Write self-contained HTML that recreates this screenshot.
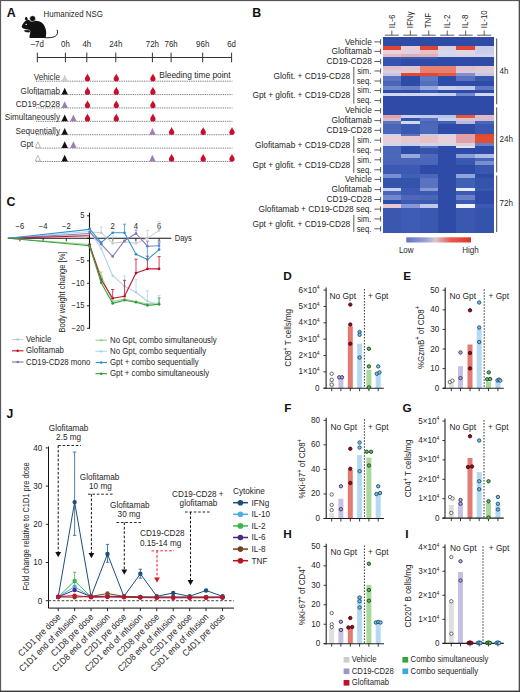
<!DOCTYPE html><html><head><meta charset="utf-8"><style>html,body{margin:0;padding:0;background:#fff;overflow:hidden;width:520px;height:692px;}svg{display:block;}text{font-family:"Liberation Sans", sans-serif;}</style></head><body>
<svg width="520" height="692" viewBox="0 0 520 692">
<rect x="0" y="0" width="520" height="692" fill="#fff"/>
<text x="6.8" y="16.5" font-size="12.4" text-anchor="start" fill="#111" font-weight="bold">A</text>
<path d="M21.6 26.9 C22.4 24.2 24.2 21.2 26.8 20.3 C28.4 19.8 29.6 20.4 30.6 21.4 C35 20.1 40.2 20.6 43.2 24 C45.6 27 46.6 31 46.1 35 C45.9 36.6 45.6 37.5 45 38.1 L29.6 38.1 C29.3 36.8 29.6 35 30.2 33.6 C30.4 32.4 30 31.2 29.2 30.4 C27.4 29.6 24.6 28.8 22.8 28.3 Z" fill="#111"/>
<path d="M24.2 30.2 C25.5 29.6 28 29.5 29.6 30.3 C30.6 31 30.4 32.4 29.4 32.6 C27.6 32.9 25.4 32.2 24.4 31.6 C23.8 31.2 23.7 30.5 24.2 30.2 Z" fill="#111" stroke="#fff" stroke-width="0.45"/>
<ellipse cx="26.3" cy="18.9" rx="1.35" ry="1.85" transform="rotate(-20 26.3 18.9)" fill="#111"/>
<circle cx="32.6" cy="18.6" r="2.9" fill="#111" stroke="#fff" stroke-width="0.45"/>
<ellipse cx="26.2" cy="24.3" rx="0.85" ry="0.6" fill="#fff"/>
<path d="M44.8 37.7 C49 37.9 53 37.6 55.5 36.2 C57.6 34.8 57.8 32.4 57.2 29.8" fill="none" stroke="#111" stroke-width="0.95"/>
<text x="0" y="0" font-size="8.78" text-anchor="start" fill="#262626" transform="translate(43.6 17.3) scale(0.9 1)">Humanized NSG</text>
<line x1="37.3" y1="57.5" x2="231.6" y2="57.5" stroke="#333" stroke-width="1.0"/>
<line x1="37.3" y1="52.6" x2="37.3" y2="62.3" stroke="#333" stroke-width="1.0"/>
<text x="0" y="0" font-size="8.78" text-anchor="middle" fill="#262626" transform="translate(37.3 46.9) scale(0.9 1)">–7d</text>
<line x1="65.4" y1="52.6" x2="65.4" y2="62.3" stroke="#333" stroke-width="1.0"/>
<text x="0" y="0" font-size="8.78" text-anchor="middle" fill="#262626" transform="translate(65.4 46.9) scale(0.9 1)">0h</text>
<line x1="86.8" y1="52.6" x2="86.8" y2="62.3" stroke="#333" stroke-width="1.0"/>
<text x="0" y="0" font-size="8.78" text-anchor="middle" fill="#262626" transform="translate(86.8 46.9) scale(0.9 1)">4h</text>
<line x1="115.8" y1="52.6" x2="115.8" y2="62.3" stroke="#333" stroke-width="1.0"/>
<text x="0" y="0" font-size="8.78" text-anchor="middle" fill="#262626" transform="translate(115.8 46.9) scale(0.9 1)">24h</text>
<line x1="152.4" y1="52.6" x2="152.4" y2="62.3" stroke="#333" stroke-width="1.0"/>
<text x="0" y="0" font-size="8.78" text-anchor="middle" fill="#262626" transform="translate(152.4 46.9) scale(0.9 1)">72h</text>
<line x1="171.1" y1="52.6" x2="171.1" y2="62.3" stroke="#333" stroke-width="1.0"/>
<text x="0" y="0" font-size="8.78" text-anchor="middle" fill="#262626" transform="translate(171.1 46.9) scale(0.9 1)">76h</text>
<line x1="202.7" y1="52.6" x2="202.7" y2="62.3" stroke="#333" stroke-width="1.0"/>
<text x="0" y="0" font-size="8.78" text-anchor="middle" fill="#262626" transform="translate(202.7 46.9) scale(0.9 1)">96h</text>
<line x1="231.6" y1="52.6" x2="231.6" y2="62.3" stroke="#333" stroke-width="1.0"/>
<text x="0" y="0" font-size="8.78" text-anchor="middle" fill="#262626" transform="translate(231.6 46.9) scale(0.9 1)">6d</text>
<line x1="36" y1="81.2" x2="232.5" y2="81.2" stroke="#555" stroke-width="0.9" stroke-dasharray="0.9 0.9"/>
<text x="0" y="0" font-size="9.06" text-anchor="end" fill="#2b2b2b" transform="translate(60.0 80.25) scale(0.9 1)">Vehicle</text>
<line x1="36" y1="94.58" x2="232.5" y2="94.58" stroke="#555" stroke-width="0.9" stroke-dasharray="0.9 0.9"/>
<text x="0" y="0" font-size="9.06" text-anchor="end" fill="#2b2b2b" transform="translate(60.0 93.63) scale(0.9 1)">Glofitamab</text>
<line x1="36" y1="107.96000000000001" x2="232.5" y2="107.96000000000001" stroke="#555" stroke-width="0.9" stroke-dasharray="0.9 0.9"/>
<text x="0" y="0" font-size="9.06" text-anchor="end" fill="#2b2b2b" transform="translate(60.0 107.01) scale(0.9 1)">CD19-CD28</text>
<line x1="36" y1="121.34" x2="232.5" y2="121.34" stroke="#555" stroke-width="0.9" stroke-dasharray="0.9 0.9"/>
<text x="0" y="0" font-size="9.06" text-anchor="end" fill="#2b2b2b" transform="translate(60.0 120.39) scale(0.9 1)">Simultaneously</text>
<line x1="36" y1="134.72" x2="232.5" y2="134.72" stroke="#555" stroke-width="0.9" stroke-dasharray="0.9 0.9"/>
<text x="0" y="0" font-size="9.06" text-anchor="end" fill="#2b2b2b" transform="translate(60.0 133.77) scale(0.9 1)">Sequentially</text>
<line x1="36" y1="148.10000000000002" x2="232.5" y2="148.10000000000002" stroke="#555" stroke-width="0.9" stroke-dasharray="0.9 0.9"/>
<text x="0" y="0" font-size="9.06" text-anchor="end" fill="#2b2b2b" transform="translate(33.3 147.15000000000003) scale(0.9 1)">Gpt</text>
<line x1="36" y1="161.48000000000002" x2="232.5" y2="161.48000000000002" stroke="#555" stroke-width="0.9" stroke-dasharray="0.9 0.9"/>
<text x="0" y="0" font-size="9.33" text-anchor="start" fill="#262626" transform="translate(159.3 77.7) scale(0.9 1)">Bleeding time point</text>
<path d="M61.5 81.2 L64.7 74.4 L67.9 81.2Z" fill="#cfcfcf"/>
<path d="M61.5 94.58 L64.7 87.78 L67.9 94.58Z" fill="#111"/>
<path d="M61.5 107.96000000000001 L64.7 101.16000000000001 L67.9 107.96000000000001Z" fill="#a07cb4"/>
<path d="M61.5 121.34 L64.7 114.54 L67.9 121.34Z" fill="#111"/>
<path d="M70.2 121.34 L73.4 114.54 L76.60000000000001 121.34Z" fill="#a07cb4"/>
<path d="M61.5 134.72 L64.7 127.92 L67.9 134.72Z" fill="#111"/>
<path d="M35.099999999999994 147.70000000000002 L37.8 141.9 L40.5 147.70000000000002Z" fill="#fff" stroke="#aaa" stroke-width="0.8"/>
<path d="M61.5 148.10000000000002 L64.7 141.3 L67.9 148.10000000000002Z" fill="#111"/>
<path d="M70.2 148.10000000000002 L73.4 141.3 L76.60000000000001 148.10000000000002Z" fill="#a07cb4"/>
<path d="M35.099999999999994 161.08 L37.8 155.28 L40.5 161.08Z" fill="#fff" stroke="#aaa" stroke-width="0.8"/>
<path d="M61.5 161.48000000000002 L64.7 154.68 L67.9 161.48000000000002Z" fill="#111"/>
<path d="M87.5 73.4 C88.1 75.4 90.15 77.0 90.15 78.75 A2.65 2.65 0 0 1 84.85 78.75 C84.85 77.0 86.9 75.4 87.5 73.4Z" fill="#c8102e"/>
<path d="M116.3 73.4 C116.89999999999999 75.4 118.95 77.0 118.95 78.75 A2.65 2.65 0 0 1 113.64999999999999 78.75 C113.64999999999999 77.0 115.7 75.4 116.3 73.4Z" fill="#c8102e"/>
<path d="M152.9 73.4 C153.5 75.4 155.55 77.0 155.55 78.75 A2.65 2.65 0 0 1 150.25 78.75 C150.25 77.0 152.3 75.4 152.9 73.4Z" fill="#c8102e"/>
<path d="M87.5 86.78 C88.1 88.78 90.15 90.38 90.15 92.13 A2.65 2.65 0 0 1 84.85 92.13 C84.85 90.38 86.9 88.78 87.5 86.78Z" fill="#c8102e"/>
<path d="M116.3 86.78 C116.89999999999999 88.78 118.95 90.38 118.95 92.13 A2.65 2.65 0 0 1 113.64999999999999 92.13 C113.64999999999999 90.38 115.7 88.78 116.3 86.78Z" fill="#c8102e"/>
<path d="M152.9 86.78 C153.5 88.78 155.55 90.38 155.55 92.13 A2.65 2.65 0 0 1 150.25 92.13 C150.25 90.38 152.3 88.78 152.9 86.78Z" fill="#c8102e"/>
<path d="M87.5 100.16000000000001 C88.1 102.16000000000001 90.15 103.76 90.15 105.51 A2.65 2.65 0 0 1 84.85 105.51 C84.85 103.76 86.9 102.16000000000001 87.5 100.16000000000001Z" fill="#c8102e"/>
<path d="M116.3 100.16000000000001 C116.89999999999999 102.16000000000001 118.95 103.76 118.95 105.51 A2.65 2.65 0 0 1 113.64999999999999 105.51 C113.64999999999999 103.76 115.7 102.16000000000001 116.3 100.16000000000001Z" fill="#c8102e"/>
<path d="M152.9 100.16000000000001 C153.5 102.16000000000001 155.55 103.76 155.55 105.51 A2.65 2.65 0 0 1 150.25 105.51 C150.25 103.76 152.3 102.16000000000001 152.9 100.16000000000001Z" fill="#c8102e"/>
<path d="M87.5 113.54 C88.1 115.54 90.15 117.14 90.15 118.89 A2.65 2.65 0 0 1 84.85 118.89 C84.85 117.14 86.9 115.54 87.5 113.54Z" fill="#c8102e"/>
<path d="M116.3 113.54 C116.89999999999999 115.54 118.95 117.14 118.95 118.89 A2.65 2.65 0 0 1 113.64999999999999 118.89 C113.64999999999999 117.14 115.7 115.54 116.3 113.54Z" fill="#c8102e"/>
<path d="M152.9 113.54 C153.5 115.54 155.55 117.14 155.55 118.89 A2.65 2.65 0 0 1 150.25 118.89 C150.25 117.14 152.3 115.54 152.9 113.54Z" fill="#c8102e"/>
<path d="M149.20000000000002 134.72 L152.4 127.92 L155.6 134.72Z" fill="#a07cb4"/>
<path d="M171.6 126.91999999999999 C172.2 128.92 174.25 130.51999999999998 174.25 132.26999999999998 A2.65 2.65 0 0 1 168.95 132.26999999999998 C168.95 130.51999999999998 171.0 128.92 171.6 126.91999999999999Z" fill="#c8102e"/>
<path d="M203.2 126.91999999999999 C203.79999999999998 128.92 205.85 130.51999999999998 205.85 132.26999999999998 A2.65 2.65 0 0 1 200.54999999999998 132.26999999999998 C200.54999999999998 130.51999999999998 202.6 128.92 203.2 126.91999999999999Z" fill="#c8102e"/>
<path d="M232.0 126.91999999999999 C232.6 128.92 234.65 130.51999999999998 234.65 132.26999999999998 A2.65 2.65 0 0 1 229.35 132.26999999999998 C229.35 130.51999999999998 231.4 128.92 232.0 126.91999999999999Z" fill="#c8102e"/>
<path d="M149.20000000000002 161.48000000000002 L152.4 154.68 L155.6 161.48000000000002Z" fill="#a07cb4"/>
<path d="M171.6 153.68 C172.2 155.68 174.25 157.28 174.25 159.03 A2.65 2.65 0 0 1 168.95 159.03 C168.95 157.28 171.0 155.68 171.6 153.68Z" fill="#c8102e"/>
<path d="M203.2 153.68 C203.79999999999998 155.68 205.85 157.28 205.85 159.03 A2.65 2.65 0 0 1 200.54999999999998 159.03 C200.54999999999998 157.28 202.6 155.68 203.2 153.68Z" fill="#c8102e"/>
<path d="M232.0 153.68 C232.6 155.68 234.65 157.28 234.65 159.03 A2.65 2.65 0 0 1 229.35 159.03 C229.35 157.28 231.4 155.68 232.0 153.68Z" fill="#c8102e"/>
<text x="252.2" y="16.5" font-size="12.4" text-anchor="start" fill="#111" font-weight="bold">B</text>
<g shape-rendering="crispEdges">
<rect x="382.60" y="37" width="18.77" height="9.70" fill="#2d4ba7"/>
<rect x="401.07" y="37" width="18.77" height="9.70" fill="#2d4ba7"/>
<rect x="419.53" y="37" width="18.77" height="9.70" fill="#2d4ba7"/>
<rect x="438.00" y="37" width="18.77" height="9.70" fill="#2d4ba7"/>
<rect x="456.47" y="37" width="18.77" height="9.70" fill="#2d4ba7"/>
<rect x="474.93" y="37" width="18.77" height="9.70" fill="#2d4ba7"/>
<rect x="382.60" y="46.4" width="18.77" height="3.80" fill="#e0452f"/>
<rect x="401.07" y="46.4" width="18.77" height="3.80" fill="#e8ccd6"/>
<rect x="419.53" y="46.4" width="18.77" height="3.80" fill="#e0452f"/>
<rect x="438.00" y="46.4" width="18.77" height="3.80" fill="#d8d0e0"/>
<rect x="456.47" y="46.4" width="18.77" height="3.80" fill="#e0452f"/>
<rect x="474.93" y="46.4" width="18.77" height="3.80" fill="#c8cce8"/>
<rect x="382.60" y="49.9" width="18.77" height="4.30" fill="#e8d0dc"/>
<rect x="401.07" y="49.9" width="18.77" height="4.30" fill="#e0d0e0"/>
<rect x="419.53" y="49.9" width="18.77" height="4.30" fill="#e8c0c8"/>
<rect x="438.00" y="49.9" width="18.77" height="4.30" fill="#d8d8ec"/>
<rect x="456.47" y="49.9" width="18.77" height="4.30" fill="#e0d8e8"/>
<rect x="474.93" y="49.9" width="18.77" height="4.30" fill="#c8d0ec"/>
<rect x="382.60" y="53.9" width="18.77" height="2.90" fill="#e8b8c0"/>
<rect x="401.07" y="53.9" width="18.77" height="2.90" fill="#e0b0b8"/>
<rect x="419.53" y="53.9" width="18.77" height="2.90" fill="#e0b0b8"/>
<rect x="438.00" y="53.9" width="18.77" height="2.90" fill="#d0d4ec"/>
<rect x="456.47" y="53.9" width="18.77" height="2.90" fill="#dcd4e4"/>
<rect x="474.93" y="53.9" width="18.77" height="2.90" fill="#d4d4ec"/>
<rect x="382.60" y="56.5" width="18.77" height="3.20" fill="#3a5ab8"/>
<rect x="401.07" y="56.5" width="18.77" height="3.20" fill="#3a58b4"/>
<rect x="419.53" y="56.5" width="18.77" height="3.20" fill="#3a58b4"/>
<rect x="438.00" y="56.5" width="18.77" height="3.20" fill="#2d4ba7"/>
<rect x="456.47" y="56.5" width="18.77" height="3.20" fill="#2d4ba7"/>
<rect x="474.93" y="56.5" width="18.77" height="3.20" fill="#2d4ba7"/>
<rect x="382.60" y="59.4" width="18.77" height="6.70" fill="#3452b0"/>
<rect x="401.07" y="59.4" width="18.77" height="6.70" fill="#2d4ba7"/>
<rect x="419.53" y="59.4" width="18.77" height="6.70" fill="#2d4ba7"/>
<rect x="438.00" y="59.4" width="18.77" height="6.70" fill="#2d4ba7"/>
<rect x="456.47" y="59.4" width="18.77" height="6.70" fill="#2d4ba7"/>
<rect x="474.93" y="59.4" width="18.77" height="6.70" fill="#2d4ba7"/>
<rect x="382.60" y="65.8" width="18.77" height="4.00" fill="#dcc0d0"/>
<rect x="401.07" y="65.8" width="18.77" height="4.00" fill="#e0c4d0"/>
<rect x="419.53" y="65.8" width="18.77" height="4.00" fill="#e88070"/>
<rect x="438.00" y="65.8" width="18.77" height="4.00" fill="#e88070"/>
<rect x="456.47" y="65.8" width="18.77" height="4.00" fill="#dcc4d4"/>
<rect x="474.93" y="65.8" width="18.77" height="4.00" fill="#e0c8d4"/>
<rect x="382.60" y="69.5" width="18.77" height="3.60" fill="#e4ccd8"/>
<rect x="401.07" y="69.5" width="18.77" height="3.60" fill="#e0c8d4"/>
<rect x="419.53" y="69.5" width="18.77" height="3.60" fill="#e8806e"/>
<rect x="438.00" y="69.5" width="18.77" height="3.60" fill="#e8806e"/>
<rect x="456.47" y="69.5" width="18.77" height="3.60" fill="#e0c8d4"/>
<rect x="474.93" y="69.5" width="18.77" height="3.60" fill="#e0ccd8"/>
<rect x="382.60" y="72.8" width="18.77" height="3.70" fill="#c0c8e8"/>
<rect x="401.07" y="72.8" width="18.77" height="3.70" fill="#e04a30"/>
<rect x="419.53" y="72.8" width="18.77" height="3.70" fill="#e04a30"/>
<rect x="438.00" y="72.8" width="18.77" height="3.70" fill="#e05a44"/>
<rect x="456.47" y="72.8" width="18.77" height="3.70" fill="#8090d0"/>
<rect x="474.93" y="72.8" width="18.77" height="3.70" fill="#c8c8e4"/>
<rect x="382.60" y="76.2" width="18.77" height="4.70" fill="#5a72c0"/>
<rect x="401.07" y="76.2" width="18.77" height="4.70" fill="#2d4ba7"/>
<rect x="419.53" y="76.2" width="18.77" height="4.70" fill="#6078c4"/>
<rect x="438.00" y="76.2" width="18.77" height="4.70" fill="#2d4ba7"/>
<rect x="456.47" y="76.2" width="18.77" height="4.70" fill="#5a72c0"/>
<rect x="474.93" y="76.2" width="18.77" height="4.70" fill="#3858b0"/>
<rect x="382.60" y="80.6" width="18.77" height="5.90" fill="#4a66b8"/>
<rect x="401.07" y="80.6" width="18.77" height="5.90" fill="#2d4ba7"/>
<rect x="419.53" y="80.6" width="18.77" height="5.90" fill="#5070bc"/>
<rect x="438.00" y="80.6" width="18.77" height="5.90" fill="#2d4ba7"/>
<rect x="456.47" y="80.6" width="18.77" height="5.90" fill="#2d4ba7"/>
<rect x="474.93" y="80.6" width="18.77" height="5.90" fill="#2d4ba7"/>
<rect x="382.60" y="86.2" width="18.77" height="3.70" fill="#7088cc"/>
<rect x="401.07" y="86.2" width="18.77" height="3.70" fill="#6a80c8"/>
<rect x="419.53" y="86.2" width="18.77" height="3.70" fill="#98a8dc"/>
<rect x="438.00" y="86.2" width="18.77" height="3.70" fill="#c8d0ee"/>
<rect x="456.47" y="86.2" width="18.77" height="3.70" fill="#c0c8ec"/>
<rect x="474.93" y="86.2" width="18.77" height="3.70" fill="#6078c4"/>
<rect x="382.60" y="89.6" width="18.77" height="3.60" fill="#2d4ba7"/>
<rect x="401.07" y="89.6" width="18.77" height="3.60" fill="#2d4ba7"/>
<rect x="419.53" y="89.6" width="18.77" height="3.60" fill="#3c5ab4"/>
<rect x="438.00" y="89.6" width="18.77" height="3.60" fill="#2d4ba7"/>
<rect x="456.47" y="89.6" width="18.77" height="3.60" fill="#2d4ba7"/>
<rect x="474.93" y="89.6" width="18.77" height="3.60" fill="#2d4ba7"/>
<rect x="382.60" y="92.9" width="18.77" height="3.70" fill="#d0d8f0"/>
<rect x="401.07" y="92.9" width="18.77" height="3.70" fill="#d0d8f0"/>
<rect x="419.53" y="92.9" width="18.77" height="3.70" fill="#d0d8f0"/>
<rect x="438.00" y="92.9" width="18.77" height="3.70" fill="#c8d0ee"/>
<rect x="456.47" y="92.9" width="18.77" height="3.70" fill="#7088cc"/>
<rect x="474.93" y="92.9" width="18.77" height="3.70" fill="#d0d8f0"/>
<rect x="382.60" y="96.3" width="18.77" height="18.50" fill="#2d4ba7"/>
<rect x="401.07" y="96.3" width="18.77" height="18.50" fill="#2d4ba7"/>
<rect x="419.53" y="96.3" width="18.77" height="18.50" fill="#2d4ba7"/>
<rect x="438.00" y="96.3" width="18.77" height="18.50" fill="#2d4ba7"/>
<rect x="456.47" y="96.3" width="18.77" height="18.50" fill="#2d4ba7"/>
<rect x="474.93" y="96.3" width="18.77" height="18.50" fill="#2d4ba7"/>
<rect x="382.60" y="114.5" width="18.77" height="4.00" fill="#e0a0a8"/>
<rect x="401.07" y="114.5" width="18.77" height="4.00" fill="#c8d0f0"/>
<rect x="419.53" y="114.5" width="18.77" height="4.00" fill="#c0c8ec"/>
<rect x="438.00" y="114.5" width="18.77" height="4.00" fill="#b8c4e8"/>
<rect x="456.47" y="114.5" width="18.77" height="4.00" fill="#e05a40"/>
<rect x="474.93" y="114.5" width="18.77" height="4.00" fill="#e0b8c8"/>
<rect x="382.60" y="118.2" width="18.77" height="3.50" fill="#d8b8cc"/>
<rect x="401.07" y="118.2" width="18.77" height="3.50" fill="#3454b0"/>
<rect x="419.53" y="118.2" width="18.77" height="3.50" fill="#5a72c0"/>
<rect x="438.00" y="118.2" width="18.77" height="3.50" fill="#c8d0ec"/>
<rect x="456.47" y="118.2" width="18.77" height="3.50" fill="#e0c0cc"/>
<rect x="474.93" y="118.2" width="18.77" height="3.50" fill="#d4bcd0"/>
<rect x="382.60" y="121.4" width="18.77" height="3.20" fill="#5a74c0"/>
<rect x="401.07" y="121.4" width="18.77" height="3.20" fill="#d0d8f0"/>
<rect x="419.53" y="121.4" width="18.77" height="3.20" fill="#4a64b8"/>
<rect x="438.00" y="121.4" width="18.77" height="3.20" fill="#4060b4"/>
<rect x="456.47" y="121.4" width="18.77" height="3.20" fill="#b0bce4"/>
<rect x="474.93" y="121.4" width="18.77" height="3.20" fill="#4a66b8"/>
<rect x="382.60" y="124.3" width="18.77" height="9.80" fill="#4a66b8"/>
<rect x="401.07" y="124.3" width="18.77" height="9.80" fill="#3a58b0"/>
<rect x="419.53" y="124.3" width="18.77" height="9.80" fill="#4c68b8"/>
<rect x="438.00" y="124.3" width="18.77" height="9.80" fill="#2d4ba7"/>
<rect x="456.47" y="124.3" width="18.77" height="9.80" fill="#2d4ba7"/>
<rect x="474.93" y="124.3" width="18.77" height="9.80" fill="#3a58b0"/>
<rect x="382.60" y="133.8" width="18.77" height="2.50" fill="#d0d4ec"/>
<rect x="401.07" y="133.8" width="18.77" height="2.50" fill="#5a72c0"/>
<rect x="419.53" y="133.8" width="18.77" height="2.50" fill="#c8cce8"/>
<rect x="438.00" y="133.8" width="18.77" height="2.50" fill="#d0d4ec"/>
<rect x="456.47" y="133.8" width="18.77" height="2.50" fill="#e0a0a0"/>
<rect x="474.93" y="133.8" width="18.77" height="2.50" fill="#e04830"/>
<rect x="382.60" y="136" width="18.77" height="7.00" fill="#e8d0d8"/>
<rect x="401.07" y="136" width="18.77" height="7.00" fill="#e8c8d0"/>
<rect x="419.53" y="136" width="18.77" height="7.00" fill="#e8c0c8"/>
<rect x="438.00" y="136" width="18.77" height="7.00" fill="#e8d0d8"/>
<rect x="456.47" y="136" width="18.77" height="7.00" fill="#e0a0a8"/>
<rect x="474.93" y="136" width="18.77" height="7.00" fill="#e05030"/>
<rect x="382.60" y="142.7" width="18.77" height="3.60" fill="#d0d4ec"/>
<rect x="401.07" y="142.7" width="18.77" height="3.60" fill="#c8d0ec"/>
<rect x="419.53" y="142.7" width="18.77" height="3.60" fill="#d0d4ec"/>
<rect x="438.00" y="142.7" width="18.77" height="3.60" fill="#d0d4ec"/>
<rect x="456.47" y="142.7" width="18.77" height="3.60" fill="#e0ccd8"/>
<rect x="474.93" y="142.7" width="18.77" height="3.60" fill="#6a80c8"/>
<rect x="382.60" y="146" width="18.77" height="2.60" fill="#4a64b8"/>
<rect x="401.07" y="146" width="18.77" height="2.60" fill="#2d4ba7"/>
<rect x="419.53" y="146" width="18.77" height="2.60" fill="#6078c4"/>
<rect x="438.00" y="146" width="18.77" height="2.60" fill="#2d4ba7"/>
<rect x="456.47" y="146" width="18.77" height="2.60" fill="#e0e4f4"/>
<rect x="474.93" y="146" width="18.77" height="2.60" fill="#2d4ba7"/>
<rect x="382.60" y="148.3" width="18.77" height="6.00" fill="#4a66b8"/>
<rect x="401.07" y="148.3" width="18.77" height="6.00" fill="#2d4ba7"/>
<rect x="419.53" y="148.3" width="18.77" height="6.00" fill="#3454ac"/>
<rect x="438.00" y="148.3" width="18.77" height="6.00" fill="#2d4ba7"/>
<rect x="456.47" y="148.3" width="18.77" height="6.00" fill="#2d4ba7"/>
<rect x="474.93" y="148.3" width="18.77" height="6.00" fill="#2d4ba7"/>
<rect x="382.60" y="154" width="18.77" height="4.10" fill="#4c68b8"/>
<rect x="401.07" y="154" width="18.77" height="4.10" fill="#98a8dc"/>
<rect x="419.53" y="154" width="18.77" height="4.10" fill="#5068bc"/>
<rect x="438.00" y="154" width="18.77" height="4.10" fill="#2d4ba7"/>
<rect x="456.47" y="154" width="18.77" height="4.10" fill="#8ca0d8"/>
<rect x="474.93" y="154" width="18.77" height="4.10" fill="#b0bce8"/>
<rect x="382.60" y="157.8" width="18.77" height="3.80" fill="#4a66b8"/>
<rect x="401.07" y="157.8" width="18.77" height="3.80" fill="#4a64b8"/>
<rect x="419.53" y="157.8" width="18.77" height="3.80" fill="#4a66b8"/>
<rect x="438.00" y="157.8" width="18.77" height="3.80" fill="#2d4ba7"/>
<rect x="456.47" y="157.8" width="18.77" height="3.80" fill="#3a58b0"/>
<rect x="474.93" y="157.8" width="18.77" height="3.80" fill="#4a66b8"/>
<rect x="382.60" y="161.3" width="18.77" height="3.70" fill="#4a66b8"/>
<rect x="401.07" y="161.3" width="18.77" height="3.70" fill="#4a66b8"/>
<rect x="419.53" y="161.3" width="18.77" height="3.70" fill="#4a66b8"/>
<rect x="438.00" y="161.3" width="18.77" height="3.70" fill="#2d4ba7"/>
<rect x="456.47" y="161.3" width="18.77" height="3.70" fill="#3a58b0"/>
<rect x="474.93" y="161.3" width="18.77" height="3.70" fill="#7890d0"/>
<rect x="382.60" y="164.7" width="18.77" height="9.20" fill="#3c5ab4"/>
<rect x="401.07" y="164.7" width="18.77" height="9.20" fill="#3c5ab4"/>
<rect x="419.53" y="164.7" width="18.77" height="9.20" fill="#2d4ba7"/>
<rect x="438.00" y="164.7" width="18.77" height="9.20" fill="#2d4ba7"/>
<rect x="456.47" y="164.7" width="18.77" height="9.20" fill="#2d4ba7"/>
<rect x="474.93" y="164.7" width="18.77" height="9.20" fill="#3a58b0"/>
<rect x="382.60" y="173.6" width="18.77" height="4.30" fill="#7890d0"/>
<rect x="401.07" y="173.6" width="18.77" height="4.30" fill="#4060b4"/>
<rect x="419.53" y="173.6" width="18.77" height="4.30" fill="#4a66b8"/>
<rect x="438.00" y="173.6" width="18.77" height="4.30" fill="#2d4ba7"/>
<rect x="456.47" y="173.6" width="18.77" height="4.30" fill="#90a4dc"/>
<rect x="474.93" y="173.6" width="18.77" height="4.30" fill="#2d4ba7"/>
<rect x="382.60" y="177.6" width="18.77" height="10.30" fill="#3454ac"/>
<rect x="401.07" y="177.6" width="18.77" height="10.30" fill="#3454ac"/>
<rect x="419.53" y="177.6" width="18.77" height="10.30" fill="#5a72c0"/>
<rect x="438.00" y="177.6" width="18.77" height="10.30" fill="#2d4ba7"/>
<rect x="456.47" y="177.6" width="18.77" height="10.30" fill="#4060b4"/>
<rect x="474.93" y="177.6" width="18.77" height="10.30" fill="#3454ac"/>
<rect x="382.60" y="187.6" width="18.77" height="4.00" fill="#c8d0f0"/>
<rect x="401.07" y="187.6" width="18.77" height="4.00" fill="#3c5ab4"/>
<rect x="419.53" y="187.6" width="18.77" height="4.00" fill="#8898d4"/>
<rect x="438.00" y="187.6" width="18.77" height="4.00" fill="#2d4ba7"/>
<rect x="456.47" y="187.6" width="18.77" height="4.00" fill="#e8ecf8"/>
<rect x="474.93" y="187.6" width="18.77" height="4.00" fill="#3a58b0"/>
<rect x="382.60" y="191" width="18.77" height="4.70" fill="#4a66b8"/>
<rect x="401.07" y="191" width="18.77" height="4.70" fill="#3c5ab4"/>
<rect x="419.53" y="191" width="18.77" height="4.70" fill="#3c5ab4"/>
<rect x="438.00" y="191" width="18.77" height="4.70" fill="#2d4ba7"/>
<rect x="456.47" y="191" width="18.77" height="4.70" fill="#3c5ab4"/>
<rect x="474.93" y="191" width="18.77" height="4.70" fill="#2d4ba7"/>
<rect x="382.60" y="195.4" width="18.77" height="4.80" fill="#7088cc"/>
<rect x="401.07" y="195.4" width="18.77" height="4.80" fill="#5068bc"/>
<rect x="419.53" y="195.4" width="18.77" height="4.80" fill="#4a66b8"/>
<rect x="438.00" y="195.4" width="18.77" height="4.80" fill="#2d4ba7"/>
<rect x="456.47" y="195.4" width="18.77" height="4.80" fill="#6880c8"/>
<rect x="474.93" y="195.4" width="18.77" height="4.80" fill="#2d4ba7"/>
<rect x="382.60" y="199.9" width="18.77" height="4.00" fill="#2d4ba7"/>
<rect x="401.07" y="199.9" width="18.77" height="4.00" fill="#3c5ab4"/>
<rect x="419.53" y="199.9" width="18.77" height="4.00" fill="#3c5ab4"/>
<rect x="438.00" y="199.9" width="18.77" height="4.00" fill="#2d4ba7"/>
<rect x="456.47" y="199.9" width="18.77" height="4.00" fill="#3c5ab4"/>
<rect x="474.93" y="199.9" width="18.77" height="4.00" fill="#2d4ba7"/>
<rect x="382.60" y="203.6" width="18.77" height="4.20" fill="#e8c8d4"/>
<rect x="401.07" y="203.6" width="18.77" height="4.20" fill="#8898d4"/>
<rect x="419.53" y="203.6" width="18.77" height="4.20" fill="#c0c8ec"/>
<rect x="438.00" y="203.6" width="18.77" height="4.20" fill="#2d4ba7"/>
<rect x="456.47" y="203.6" width="18.77" height="4.20" fill="#eef0fa"/>
<rect x="474.93" y="203.6" width="18.77" height="4.20" fill="#3c5ab4"/>
<rect x="382.60" y="207.5" width="18.77" height="25.30" fill="#3a58b0"/>
<rect x="401.07" y="207.5" width="18.77" height="25.30" fill="#3e5cb4"/>
<rect x="419.53" y="207.5" width="18.77" height="25.30" fill="#3a58b0"/>
<rect x="438.00" y="207.5" width="18.77" height="25.30" fill="#2d4ba7"/>
<rect x="456.47" y="207.5" width="18.77" height="25.30" fill="#3a58b0"/>
<rect x="474.93" y="207.5" width="18.77" height="25.30" fill="#3454ac"/>
</g>
<line x1="384.83333333333337" y1="35.2" x2="398.83333333333337" y2="35.2" stroke="#333" stroke-width="0.8"/>
<line x1="391.83333333333337" y1="30.5" x2="391.83333333333337" y2="35.2" stroke="#333" stroke-width="0.8"/>
<text x="0" y="0" font-size="8.78" text-anchor="start" fill="#262626" transform="translate(394.53333333333336 28.3) rotate(-90) scale(0.9 1)">IL-6</text>
<line x1="403.3" y1="35.2" x2="417.3" y2="35.2" stroke="#333" stroke-width="0.8"/>
<line x1="410.3" y1="30.5" x2="410.3" y2="35.2" stroke="#333" stroke-width="0.8"/>
<text x="0" y="0" font-size="8.78" text-anchor="start" fill="#262626" transform="translate(413.0 28.3) rotate(-90) scale(0.9 1)">IFNγ</text>
<line x1="421.76666666666665" y1="35.2" x2="435.76666666666665" y2="35.2" stroke="#333" stroke-width="0.8"/>
<line x1="428.76666666666665" y1="30.5" x2="428.76666666666665" y2="35.2" stroke="#333" stroke-width="0.8"/>
<text x="0" y="0" font-size="8.78" text-anchor="start" fill="#262626" transform="translate(431.46666666666664 28.3) rotate(-90) scale(0.9 1)">TNF</text>
<line x1="440.23333333333335" y1="35.2" x2="454.23333333333335" y2="35.2" stroke="#333" stroke-width="0.8"/>
<line x1="447.23333333333335" y1="30.5" x2="447.23333333333335" y2="35.2" stroke="#333" stroke-width="0.8"/>
<text x="0" y="0" font-size="8.78" text-anchor="start" fill="#262626" transform="translate(449.93333333333334 28.3) rotate(-90) scale(0.9 1)">IL-2</text>
<line x1="458.7" y1="35.2" x2="472.7" y2="35.2" stroke="#333" stroke-width="0.8"/>
<line x1="465.7" y1="30.5" x2="465.7" y2="35.2" stroke="#333" stroke-width="0.8"/>
<text x="0" y="0" font-size="8.78" text-anchor="start" fill="#262626" transform="translate(468.4 28.3) rotate(-90) scale(0.9 1)">IL-8</text>
<line x1="477.16666666666663" y1="35.2" x2="491.16666666666663" y2="35.2" stroke="#333" stroke-width="0.8"/>
<line x1="484.16666666666663" y1="30.5" x2="484.16666666666663" y2="35.2" stroke="#333" stroke-width="0.8"/>
<text x="0" y="0" font-size="8.78" text-anchor="start" fill="#262626" transform="translate(486.8666666666666 28.3) rotate(-90) scale(0.9 1)">IL-10</text>
<text x="0" y="0" font-size="9.28" text-anchor="end" fill="#262626" transform="translate(371.8 44.6) scale(0.9 1)">Vehicle</text>
<line x1="374.4" y1="41.9" x2="380.6" y2="41.9" stroke="#333" stroke-width="0.8"/>
<line x1="380.6" y1="39.199999999999996" x2="380.6" y2="44.6" stroke="#333" stroke-width="0.8"/>
<text x="0" y="0" font-size="9.28" text-anchor="end" fill="#262626" transform="translate(371.8 54.1) scale(0.9 1)">Glofitamab</text>
<line x1="374.4" y1="51.4" x2="380.6" y2="51.4" stroke="#333" stroke-width="0.8"/>
<line x1="380.6" y1="48.699999999999996" x2="380.6" y2="54.1" stroke="#333" stroke-width="0.8"/>
<text x="0" y="0" font-size="9.28" text-anchor="end" fill="#262626" transform="translate(371.8 64.2) scale(0.9 1)">CD19-CD28</text>
<line x1="374.4" y1="61.5" x2="380.6" y2="61.5" stroke="#333" stroke-width="0.8"/>
<line x1="380.6" y1="58.8" x2="380.6" y2="64.2" stroke="#333" stroke-width="0.8"/>
<text x="0" y="0" font-size="8.56" text-anchor="end" fill="#262626" transform="translate(371.3 73.7) scale(0.9 1)">sim.</text>
<line x1="374.4" y1="71.0" x2="380.6" y2="71.0" stroke="#333" stroke-width="0.8"/>
<line x1="380.6" y1="68.3" x2="380.6" y2="73.7" stroke="#333" stroke-width="0.8"/>
<text x="0" y="0" font-size="8.56" text-anchor="end" fill="#262626" transform="translate(371.3 83.7) scale(0.9 1)">seq.</text>
<line x1="374.4" y1="81.0" x2="380.6" y2="81.0" stroke="#333" stroke-width="0.8"/>
<line x1="380.6" y1="78.3" x2="380.6" y2="83.7" stroke="#333" stroke-width="0.8"/>
<text x="0" y="0" font-size="8.56" text-anchor="end" fill="#262626" transform="translate(371.3 93.3) scale(0.9 1)">sim.</text>
<line x1="374.4" y1="90.6" x2="380.6" y2="90.6" stroke="#333" stroke-width="0.8"/>
<line x1="380.6" y1="87.89999999999999" x2="380.6" y2="93.3" stroke="#333" stroke-width="0.8"/>
<text x="0" y="0" font-size="8.56" text-anchor="end" fill="#262626" transform="translate(371.3 103.3) scale(0.9 1)">seq.</text>
<line x1="374.4" y1="100.6" x2="380.6" y2="100.6" stroke="#333" stroke-width="0.8"/>
<line x1="380.6" y1="97.89999999999999" x2="380.6" y2="103.3" stroke="#333" stroke-width="0.8"/>
<text x="0" y="0" font-size="9.28" text-anchor="end" fill="#262626" transform="translate(371.8 113.3) scale(0.9 1)">Vehicle</text>
<line x1="374.4" y1="110.6" x2="380.6" y2="110.6" stroke="#333" stroke-width="0.8"/>
<line x1="380.6" y1="107.89999999999999" x2="380.6" y2="113.3" stroke="#333" stroke-width="0.8"/>
<text x="0" y="0" font-size="9.28" text-anchor="end" fill="#262626" transform="translate(371.8 123.3) scale(0.9 1)">Glofitamab</text>
<line x1="374.4" y1="120.6" x2="380.6" y2="120.6" stroke="#333" stroke-width="0.8"/>
<line x1="380.6" y1="117.89999999999999" x2="380.6" y2="123.3" stroke="#333" stroke-width="0.8"/>
<text x="0" y="0" font-size="9.28" text-anchor="end" fill="#262626" transform="translate(371.8 133.0) scale(0.9 1)">CD19-CD28</text>
<line x1="374.4" y1="130.3" x2="380.6" y2="130.3" stroke="#333" stroke-width="0.8"/>
<line x1="380.6" y1="127.60000000000001" x2="380.6" y2="133.0" stroke="#333" stroke-width="0.8"/>
<text x="0" y="0" font-size="8.56" text-anchor="end" fill="#262626" transform="translate(371.3 142.89999999999998) scale(0.9 1)">sim.</text>
<line x1="374.4" y1="140.2" x2="380.6" y2="140.2" stroke="#333" stroke-width="0.8"/>
<line x1="380.6" y1="137.5" x2="380.6" y2="142.89999999999998" stroke="#333" stroke-width="0.8"/>
<text x="0" y="0" font-size="8.56" text-anchor="end" fill="#262626" transform="translate(371.3 152.7) scale(0.9 1)">seq.</text>
<line x1="374.4" y1="150.0" x2="380.6" y2="150.0" stroke="#333" stroke-width="0.8"/>
<line x1="380.6" y1="147.3" x2="380.6" y2="152.7" stroke="#333" stroke-width="0.8"/>
<text x="0" y="0" font-size="8.56" text-anchor="end" fill="#262626" transform="translate(371.3 162.5) scale(0.9 1)">sim.</text>
<line x1="374.4" y1="159.8" x2="380.6" y2="159.8" stroke="#333" stroke-width="0.8"/>
<line x1="380.6" y1="157.10000000000002" x2="380.6" y2="162.5" stroke="#333" stroke-width="0.8"/>
<text x="0" y="0" font-size="8.56" text-anchor="end" fill="#262626" transform="translate(371.3 172.5) scale(0.9 1)">seq.</text>
<line x1="374.4" y1="169.8" x2="380.6" y2="169.8" stroke="#333" stroke-width="0.8"/>
<line x1="380.6" y1="167.10000000000002" x2="380.6" y2="172.5" stroke="#333" stroke-width="0.8"/>
<text x="0" y="0" font-size="9.28" text-anchor="end" fill="#262626" transform="translate(371.8 182.1) scale(0.9 1)">Vehicle</text>
<line x1="374.4" y1="179.4" x2="380.6" y2="179.4" stroke="#333" stroke-width="0.8"/>
<line x1="380.6" y1="176.70000000000002" x2="380.6" y2="182.1" stroke="#333" stroke-width="0.8"/>
<text x="0" y="0" font-size="9.28" text-anchor="end" fill="#262626" transform="translate(371.8 192.29999999999998) scale(0.9 1)">Glofitamab</text>
<line x1="374.4" y1="189.6" x2="380.6" y2="189.6" stroke="#333" stroke-width="0.8"/>
<line x1="380.6" y1="186.9" x2="380.6" y2="192.29999999999998" stroke="#333" stroke-width="0.8"/>
<text x="0" y="0" font-size="9.28" text-anchor="end" fill="#262626" transform="translate(371.8 202.2) scale(0.9 1)">CD19-CD28</text>
<line x1="374.4" y1="199.5" x2="380.6" y2="199.5" stroke="#333" stroke-width="0.8"/>
<line x1="380.6" y1="196.8" x2="380.6" y2="202.2" stroke="#333" stroke-width="0.8"/>
<text x="0" y="0" font-size="9.28" text-anchor="end" fill="#262626" transform="translate(371.8 211.79999999999998) scale(0.9 1)">Glofitamab + CD19-CD28 seq.</text>
<line x1="374.4" y1="209.1" x2="380.6" y2="209.1" stroke="#333" stroke-width="0.8"/>
<line x1="380.6" y1="206.4" x2="380.6" y2="211.79999999999998" stroke="#333" stroke-width="0.8"/>
<text x="0" y="0" font-size="8.56" text-anchor="end" fill="#262626" transform="translate(371.3 221.6) scale(0.9 1)">sim.</text>
<line x1="374.4" y1="218.9" x2="380.6" y2="218.9" stroke="#333" stroke-width="0.8"/>
<line x1="380.6" y1="216.20000000000002" x2="380.6" y2="221.6" stroke="#333" stroke-width="0.8"/>
<text x="0" y="0" font-size="8.56" text-anchor="end" fill="#262626" transform="translate(371.3 231.5) scale(0.9 1)">seq.</text>
<line x1="374.4" y1="228.8" x2="380.6" y2="228.8" stroke="#333" stroke-width="0.8"/>
<line x1="380.6" y1="226.10000000000002" x2="380.6" y2="231.5" stroke="#333" stroke-width="0.8"/>
<line x1="353.8" y1="67.0" x2="353.8" y2="84.0" stroke="#333" stroke-width="0.8"/>
<text x="0" y="0" font-size="9.28" text-anchor="end" fill="#262626" transform="translate(350.2 78.7) scale(0.9 1)">Glofit. + CD19-CD28</text>
<line x1="353.8" y1="86.6" x2="353.8" y2="103.6" stroke="#333" stroke-width="0.8"/>
<text x="0" y="0" font-size="9.28" text-anchor="end" fill="#262626" transform="translate(350.2 98.3) scale(0.9 1)">Gpt + glofit. + CD19-CD28</text>
<line x1="353.8" y1="136.2" x2="353.8" y2="153.0" stroke="#333" stroke-width="0.8"/>
<text x="0" y="0" font-size="9.28" text-anchor="end" fill="#262626" transform="translate(350.2 147.79999999999998) scale(0.9 1)">Glofitamab + CD19-CD28</text>
<line x1="353.8" y1="155.8" x2="353.8" y2="172.8" stroke="#333" stroke-width="0.8"/>
<text x="0" y="0" font-size="9.28" text-anchor="end" fill="#262626" transform="translate(350.2 167.5) scale(0.9 1)">Gpt + glofit. + CD19-CD28</text>
<line x1="353.8" y1="214.9" x2="353.8" y2="231.8" stroke="#333" stroke-width="0.8"/>
<text x="0" y="0" font-size="9.28" text-anchor="end" fill="#262626" transform="translate(350.2 226.55) scale(0.9 1)">Gpt + glofit. + CD19-CD28</text>
<line x1="496.7" y1="38.5" x2="496.7" y2="104.2" stroke="#333" stroke-width="0.9"/>
<text x="0" y="0" font-size="9.00" text-anchor="start" fill="#262626" transform="translate(499.6 73.94999999999999) scale(0.9 1)">4h</text>
<line x1="496.7" y1="107.3" x2="496.7" y2="172.4" stroke="#333" stroke-width="0.9"/>
<text x="0" y="0" font-size="9.00" text-anchor="start" fill="#262626" transform="translate(499.6 142.45) scale(0.9 1)">24h</text>
<line x1="496.7" y1="175.5" x2="496.7" y2="232" stroke="#333" stroke-width="0.9"/>
<text x="0" y="0" font-size="9.00" text-anchor="start" fill="#262626" transform="translate(499.6 206.35) scale(0.9 1)">72h</text>
<defs><linearGradient id="cb" x1="0" x2="1" y1="0" y2="0"><stop offset="0" stop-color="#6272c2"/><stop offset="0.3" stop-color="#98a2d8"/><stop offset="0.45" stop-color="#dcc4d2"/><stop offset="0.68" stop-color="#e85c52"/><stop offset="1" stop-color="#e0342a"/></linearGradient></defs>
<rect x="406.3" y="237.3" width="64.7" height="5.2" fill="url(#cb)"/>
<text x="0" y="0" font-size="8.89" text-anchor="middle" fill="#262626" transform="translate(406.2 252.6) scale(0.9 1)">Low</text>
<text x="0" y="0" font-size="8.89" text-anchor="middle" fill="#262626" transform="translate(470.5 252.6) scale(0.9 1)">High</text>
<text x="6.6" y="205.8" font-size="12.4" text-anchor="start" fill="#111" font-weight="bold">C</text>
<line x1="7.7" y1="238.3" x2="171.3" y2="238.3" stroke="#111" stroke-width="1.1"/>
<line x1="19.900000000000006" y1="238.3" x2="19.900000000000006" y2="241.3" stroke="#111" stroke-width="0.9"/>
<text x="0" y="0" font-size="8.44" text-anchor="middle" fill="#262626" transform="translate(19.900000000000006 229.4) scale(0.9 1)">−6</text>
<line x1="43.1" y1="238.3" x2="43.1" y2="241.3" stroke="#111" stroke-width="0.9"/>
<text x="0" y="0" font-size="8.44" text-anchor="middle" fill="#262626" transform="translate(43.1 229.4) scale(0.9 1)">−4</text>
<line x1="66.3" y1="238.3" x2="66.3" y2="241.3" stroke="#111" stroke-width="0.9"/>
<text x="0" y="0" font-size="8.44" text-anchor="middle" fill="#262626" transform="translate(66.3 229.4) scale(0.9 1)">−2</text>
<line x1="112.7" y1="238.3" x2="112.7" y2="241.3" stroke="#111" stroke-width="0.9"/>
<text x="0" y="0" font-size="8.44" text-anchor="middle" fill="#262626" transform="translate(112.7 229.4) scale(0.9 1)">2</text>
<line x1="135.9" y1="238.3" x2="135.9" y2="241.3" stroke="#111" stroke-width="0.9"/>
<text x="0" y="0" font-size="8.44" text-anchor="middle" fill="#262626" transform="translate(135.9 229.4) scale(0.9 1)">4</text>
<line x1="159.1" y1="238.3" x2="159.1" y2="241.3" stroke="#111" stroke-width="0.9"/>
<text x="0" y="0" font-size="8.44" text-anchor="middle" fill="#262626" transform="translate(159.1 229.4) scale(0.9 1)">6</text>
<text x="0" y="0" font-size="8.33" text-anchor="start" fill="#262626" transform="translate(174.8 240.6) scale(0.9 1)">Days</text>
<line x1="89.5" y1="212.7" x2="89.5" y2="328.8" stroke="#111" stroke-width="1.1"/>
<line x1="87" y1="215.8" x2="89.5" y2="215.8" stroke="#111" stroke-width="0.9"/>
<text x="0" y="0" font-size="8.44" text-anchor="end" fill="#262626" transform="translate(84.4 218.4) scale(0.9 1)">5</text>
<line x1="87" y1="238.3" x2="89.5" y2="238.3" stroke="#111" stroke-width="0.9"/>
<line x1="87" y1="260.8" x2="89.5" y2="260.8" stroke="#111" stroke-width="0.9"/>
<text x="0" y="0" font-size="8.44" text-anchor="end" fill="#262626" transform="translate(84.4 263.40000000000003) scale(0.9 1)">−5</text>
<line x1="87" y1="283.3" x2="89.5" y2="283.3" stroke="#111" stroke-width="0.9"/>
<text x="0" y="0" font-size="8.44" text-anchor="end" fill="#262626" transform="translate(84.4 285.90000000000003) scale(0.9 1)">−10</text>
<line x1="87" y1="305.8" x2="89.5" y2="305.8" stroke="#111" stroke-width="0.9"/>
<text x="0" y="0" font-size="8.44" text-anchor="end" fill="#262626" transform="translate(84.4 308.40000000000003) scale(0.9 1)">−15</text>
<line x1="87" y1="328.3" x2="89.5" y2="328.3" stroke="#111" stroke-width="0.9"/>
<text x="0" y="0" font-size="8.44" text-anchor="end" fill="#262626" transform="translate(84.4 330.90000000000003) scale(0.9 1)">−20</text>
<text x="0" y="0" font-size="8.39" text-anchor="middle" fill="#262626" transform="translate(65.3 292) rotate(-90) scale(0.9 1)">Body weight change [%]</text>
<polyline points="8.30,238.30 89.60,244.50" fill="none" stroke="#9ccf86" stroke-width="1.1" stroke-linejoin="round"/>
<polyline points="8.30,238.30 89.60,235.00" fill="none" stroke="#d2cacd" stroke-width="1.1" stroke-linejoin="round"/>
<polyline points="8.30,238.30 89.60,231.50" fill="none" stroke="#b0d4ea" stroke-width="1.1" stroke-linejoin="round"/>
<polyline points="8.30,238.30 89.60,233.50" fill="none" stroke="#8a7cba" stroke-width="1.1" stroke-linejoin="round"/>
<polyline points="8.30,238.30 89.60,235.80" fill="none" stroke="#c8102e" stroke-width="1.1" stroke-linejoin="round"/>
<polyline points="8.30,238.30 89.60,229.40" fill="none" stroke="#3496d0" stroke-width="1.1" stroke-linejoin="round"/>
<polyline points="8.30,238.30 89.60,245.80" fill="none" stroke="#34a040" stroke-width="1.1" stroke-linejoin="round"/>
<line x1="101.2" y1="276.0" x2="101.2" y2="272" stroke="#9ccf86" stroke-width="0.8"/>
<line x1="99.60000000000001" y1="272" x2="102.8" y2="272" stroke="#9ccf86" stroke-width="0.8"/>
<polyline points="89.60,246.50 101.20,276.00 112.70,301.50 124.50,299.00 136.00,301.50 147.40,304.00 159.10,303.00" fill="none" stroke="#9ccf86" stroke-width="1.1" stroke-linejoin="round"/>
<circle cx="89.6" cy="246.5" r="1.3" fill="#9ccf86"/>
<circle cx="101.2" cy="276.0" r="1.3" fill="#9ccf86"/>
<circle cx="112.7" cy="301.5" r="1.3" fill="#9ccf86"/>
<circle cx="124.5" cy="299.0" r="1.3" fill="#9ccf86"/>
<circle cx="136.0" cy="301.5" r="1.3" fill="#9ccf86"/>
<circle cx="147.4" cy="304.0" r="1.3" fill="#9ccf86"/>
<circle cx="159.1" cy="303.0" r="1.3" fill="#9ccf86"/>
<line x1="101.2" y1="232.7" x2="101.2" y2="227.0" stroke="#d2cacd" stroke-width="0.8"/>
<line x1="99.60000000000001" y1="227.0" x2="102.8" y2="227.0" stroke="#d2cacd" stroke-width="0.8"/>
<line x1="147.4" y1="238.1" x2="147.4" y2="230.4" stroke="#d2cacd" stroke-width="0.8"/>
<line x1="145.8" y1="230.4" x2="149.0" y2="230.4" stroke="#d2cacd" stroke-width="0.8"/>
<line x1="159.1" y1="230.4" x2="159.1" y2="221.6" stroke="#d2cacd" stroke-width="0.8"/>
<line x1="157.5" y1="221.6" x2="160.7" y2="221.6" stroke="#d2cacd" stroke-width="0.8"/>
<line x1="112.7" y1="243.2" x2="112.7" y2="236" stroke="#d2cacd" stroke-width="0.8"/>
<line x1="111.10000000000001" y1="236" x2="114.3" y2="236" stroke="#d2cacd" stroke-width="0.8"/>
<polyline points="89.60,232.00 101.20,232.70 112.70,243.20 124.50,241.90 136.00,243.20 147.40,238.10 159.10,230.40" fill="none" stroke="#d2cacd" stroke-width="1.1" stroke-linejoin="round"/>
<circle cx="89.6" cy="232.0" r="1.3" fill="#b8ccd2"/>
<circle cx="101.2" cy="232.7" r="1.3" fill="#b8ccd2"/>
<circle cx="112.7" cy="243.2" r="1.3" fill="#b8ccd2"/>
<circle cx="124.5" cy="241.9" r="1.3" fill="#b8ccd2"/>
<circle cx="136.0" cy="243.2" r="1.3" fill="#b8ccd2"/>
<circle cx="147.4" cy="238.1" r="1.3" fill="#b8ccd2"/>
<circle cx="159.1" cy="230.4" r="1.3" fill="#b8ccd2"/>
<line x1="136.0" y1="292.3" x2="136.0" y2="279.7" stroke="#b0d4ea" stroke-width="0.8"/>
<line x1="134.4" y1="279.7" x2="137.6" y2="279.7" stroke="#b0d4ea" stroke-width="0.8"/>
<line x1="147.4" y1="301.2" x2="147.4" y2="290.8" stroke="#b0d4ea" stroke-width="0.8"/>
<line x1="145.8" y1="290.8" x2="149.0" y2="290.8" stroke="#b0d4ea" stroke-width="0.8"/>
<line x1="159.1" y1="304.6" x2="159.1" y2="295.4" stroke="#b0d4ea" stroke-width="0.8"/>
<line x1="157.5" y1="295.4" x2="160.7" y2="295.4" stroke="#b0d4ea" stroke-width="0.8"/>
<line x1="124.5" y1="286.2" x2="124.5" y2="276" stroke="#b0d4ea" stroke-width="0.8"/>
<line x1="122.9" y1="276" x2="126.1" y2="276" stroke="#b0d4ea" stroke-width="0.8"/>
<polyline points="89.60,231.00 101.20,248.50 112.70,275.70 124.50,286.20 136.00,292.30 147.40,301.20 159.10,304.60" fill="none" stroke="#b0d4ea" stroke-width="1.1" stroke-linejoin="round"/>
<circle cx="89.6" cy="231.0" r="1.3" fill="#b0d4ea"/>
<circle cx="101.2" cy="248.5" r="1.3" fill="#b0d4ea"/>
<circle cx="112.7" cy="275.7" r="1.3" fill="#b0d4ea"/>
<circle cx="124.5" cy="286.2" r="1.3" fill="#b0d4ea"/>
<circle cx="136.0" cy="292.3" r="1.3" fill="#b0d4ea"/>
<circle cx="147.4" cy="301.2" r="1.3" fill="#b0d4ea"/>
<circle cx="159.1" cy="304.6" r="1.3" fill="#b0d4ea"/>
<line x1="136.0" y1="233.5" x2="136.0" y2="230" stroke="#8a7cba" stroke-width="0.8"/>
<line x1="134.4" y1="230" x2="137.6" y2="230" stroke="#8a7cba" stroke-width="0.8"/>
<line x1="147.4" y1="246.2" x2="147.4" y2="241" stroke="#8a7cba" stroke-width="0.8"/>
<line x1="145.8" y1="241" x2="149.0" y2="241" stroke="#8a7cba" stroke-width="0.8"/>
<line x1="159.1" y1="245.8" x2="159.1" y2="241" stroke="#8a7cba" stroke-width="0.8"/>
<line x1="157.5" y1="241" x2="160.7" y2="241" stroke="#8a7cba" stroke-width="0.8"/>
<polyline points="89.60,232.00 101.20,244.20 112.70,256.50 124.50,240.70 136.00,233.50 147.40,246.20 159.10,245.80" fill="none" stroke="#8a7cba" stroke-width="1.1" stroke-linejoin="round"/>
<circle cx="89.6" cy="232.0" r="1.3" fill="#7c70b0"/>
<circle cx="101.2" cy="244.2" r="1.3" fill="#7c70b0"/>
<circle cx="112.7" cy="256.5" r="1.3" fill="#7c70b0"/>
<circle cx="124.5" cy="240.7" r="1.3" fill="#7c70b0"/>
<circle cx="136.0" cy="233.5" r="1.3" fill="#7c70b0"/>
<circle cx="147.4" cy="246.2" r="1.3" fill="#7c70b0"/>
<circle cx="159.1" cy="245.8" r="1.3" fill="#7c70b0"/>
<line x1="112.7" y1="298.2" x2="112.7" y2="289.5" stroke="#c8102e" stroke-width="0.8"/>
<line x1="111.10000000000001" y1="289.5" x2="114.3" y2="289.5" stroke="#c8102e" stroke-width="0.8"/>
<line x1="124.5" y1="296.2" x2="124.5" y2="280.3" stroke="#c8102e" stroke-width="0.8"/>
<line x1="122.9" y1="280.3" x2="126.1" y2="280.3" stroke="#c8102e" stroke-width="0.8"/>
<line x1="136.0" y1="273.1" x2="136.0" y2="259.2" stroke="#c8102e" stroke-width="0.8"/>
<line x1="134.4" y1="259.2" x2="137.6" y2="259.2" stroke="#c8102e" stroke-width="0.8"/>
<line x1="147.4" y1="268.9" x2="147.4" y2="256.2" stroke="#c8102e" stroke-width="0.8"/>
<line x1="145.8" y1="256.2" x2="149.0" y2="256.2" stroke="#c8102e" stroke-width="0.8"/>
<line x1="159.1" y1="268.9" x2="159.1" y2="256.6" stroke="#c8102e" stroke-width="0.8"/>
<line x1="157.5" y1="256.6" x2="160.7" y2="256.6" stroke="#c8102e" stroke-width="0.8"/>
<polyline points="89.60,244.50 101.20,279.70 112.70,298.20 124.50,296.20 136.00,273.10 147.40,268.90 159.10,268.90" fill="none" stroke="#c8102e" stroke-width="1.1" stroke-linejoin="round"/>
<circle cx="89.6" cy="244.5" r="1.3" fill="#b0102a"/>
<circle cx="101.2" cy="279.7" r="1.3" fill="#b0102a"/>
<circle cx="112.7" cy="298.2" r="1.3" fill="#b0102a"/>
<circle cx="124.5" cy="296.2" r="1.3" fill="#b0102a"/>
<circle cx="136.0" cy="273.1" r="1.3" fill="#b0102a"/>
<circle cx="147.4" cy="268.9" r="1.3" fill="#b0102a"/>
<circle cx="159.1" cy="268.9" r="1.3" fill="#b0102a"/>
<line x1="124.5" y1="232.7" x2="124.5" y2="224.2" stroke="#3496d0" stroke-width="0.8"/>
<line x1="122.9" y1="224.2" x2="126.1" y2="224.2" stroke="#3496d0" stroke-width="0.8"/>
<line x1="147.4" y1="259.6" x2="147.4" y2="246.5" stroke="#3496d0" stroke-width="0.8"/>
<line x1="145.8" y1="246.5" x2="149.0" y2="246.5" stroke="#3496d0" stroke-width="0.8"/>
<line x1="159.1" y1="249.6" x2="159.1" y2="243" stroke="#3496d0" stroke-width="0.8"/>
<line x1="157.5" y1="243" x2="160.7" y2="243" stroke="#3496d0" stroke-width="0.8"/>
<polyline points="89.60,228.80 101.20,242.70 112.70,232.70 124.50,232.70 136.00,254.20 147.40,259.60 159.10,249.60" fill="none" stroke="#3496d0" stroke-width="1.1" stroke-linejoin="round"/>
<circle cx="89.6" cy="228.8" r="1.3" fill="#2a88c4"/>
<circle cx="101.2" cy="242.7" r="1.3" fill="#2a88c4"/>
<circle cx="112.7" cy="232.7" r="1.3" fill="#2a88c4"/>
<circle cx="124.5" cy="232.7" r="1.3" fill="#2a88c4"/>
<circle cx="136.0" cy="254.2" r="1.3" fill="#2a88c4"/>
<circle cx="147.4" cy="259.6" r="1.3" fill="#2a88c4"/>
<circle cx="159.1" cy="249.6" r="1.3" fill="#2a88c4"/>
<line x1="101.2" y1="282.8" x2="101.2" y2="278" stroke="#34a040" stroke-width="0.8"/>
<line x1="99.60000000000001" y1="278" x2="102.8" y2="278" stroke="#34a040" stroke-width="0.8"/>
<line x1="159.1" y1="304.3" x2="159.1" y2="298" stroke="#34a040" stroke-width="0.8"/>
<line x1="157.5" y1="298" x2="160.7" y2="298" stroke="#34a040" stroke-width="0.8"/>
<polyline points="89.60,246.20 101.20,282.80 112.70,303.40 124.50,300.30 136.00,302.30 147.40,305.40 159.10,304.30" fill="none" stroke="#34a040" stroke-width="1.1" stroke-linejoin="round"/>
<circle cx="89.6" cy="246.2" r="1.3" fill="#2a9838"/>
<circle cx="101.2" cy="282.8" r="1.3" fill="#2a9838"/>
<circle cx="112.7" cy="303.4" r="1.3" fill="#2a9838"/>
<circle cx="124.5" cy="300.3" r="1.3" fill="#2a9838"/>
<circle cx="136.0" cy="302.3" r="1.3" fill="#2a9838"/>
<circle cx="147.4" cy="305.4" r="1.3" fill="#2a9838"/>
<circle cx="159.1" cy="304.3" r="1.3" fill="#2a9838"/>
<line x1="12" y1="339.5" x2="23.5" y2="339.5" stroke="#e0c4cc" stroke-width="1.1"/>
<circle cx="17.7" cy="339.5" r="1.3" fill="#a8d0d0"/>
<text x="0" y="0" font-size="8.72" text-anchor="start" fill="#262626" transform="translate(26 342.1) scale(0.9 1)">Vehicle</text>
<line x1="12" y1="350.8" x2="23.5" y2="350.8" stroke="#c8102e" stroke-width="1.1"/>
<circle cx="17.7" cy="350.8" r="1.3" fill="#c8102e"/>
<text x="0" y="0" font-size="8.72" text-anchor="start" fill="#262626" transform="translate(26 353.40000000000003) scale(0.9 1)">Glofitamab</text>
<line x1="12" y1="362" x2="23.5" y2="362" stroke="#7c74b4" stroke-width="1.1"/>
<circle cx="17.7" cy="362" r="1.3" fill="#7c74b4"/>
<text x="0" y="0" font-size="8.72" text-anchor="start" fill="#262626" transform="translate(26 364.6) scale(0.9 1)">CD19-CD28 mono</text>
<line x1="95.5" y1="340.2" x2="107" y2="340.2" stroke="#a0d08c" stroke-width="1.1"/>
<circle cx="101.2" cy="340.2" r="1.3" fill="#a0d08c"/>
<text x="0" y="0" font-size="8.72" text-anchor="start" fill="#262626" transform="translate(110 342.8) scale(0.9 1)">No Gpt, combo simultaneously</text>
<line x1="95.5" y1="351.3" x2="107" y2="351.3" stroke="#b0d8ee" stroke-width="1.1"/>
<circle cx="101.2" cy="351.3" r="1.3" fill="#b0d8ee"/>
<text x="0" y="0" font-size="8.72" text-anchor="start" fill="#262626" transform="translate(110 353.90000000000003) scale(0.9 1)">No Gpt, combo sequentially</text>
<line x1="95.5" y1="362.5" x2="107" y2="362.5" stroke="#2a90cc" stroke-width="1.1"/>
<circle cx="101.2" cy="362.5" r="1.3" fill="#2a90cc"/>
<text x="0" y="0" font-size="8.72" text-anchor="start" fill="#262626" transform="translate(110 365.1) scale(0.9 1)">Gpt + combo sequentially</text>
<line x1="95.5" y1="373.7" x2="107" y2="373.7" stroke="#2e9a3a" stroke-width="1.1"/>
<circle cx="101.2" cy="373.7" r="1.3" fill="#2e9a3a"/>
<text x="0" y="0" font-size="8.72" text-anchor="start" fill="#262626" transform="translate(110 376.3) scale(0.9 1)">Gpt + combo simultaneously</text>
<text x="283.3" y="279.6" font-size="11.8" text-anchor="start" fill="#111" font-weight="bold">D</text>
<rect x="329.2" y="381" width="5.0" height="7.199999999999989" fill="#dedede"/>
<rect x="338.4" y="377.5" width="5.0" height="10.699999999999989" fill="#c6c0e2"/>
<rect x="347.8" y="326.3" width="5.0" height="61.89999999999998" fill="#e27c72"/>
<rect x="357.1" y="343.75" width="5.0" height="44.44999999999999" fill="#b6d8f0"/>
<rect x="366.4" y="369.7" width="5.0" height="18.5" fill="#aad89a"/>
<rect x="375.7" y="374.2" width="5.0" height="14.0" fill="#b6d8f0"/>
<line x1="364.4" y1="289.09999999999997" x2="364.4" y2="388.2" stroke="#383838" stroke-width="1.05" stroke-dasharray="1.5 1.5"/>
<line x1="326.1" y1="287.49999999999994" x2="326.1" y2="388.7" stroke="#222" stroke-width="1.1"/>
<line x1="323.5" y1="388.2" x2="383.8" y2="388.2" stroke="#222" stroke-width="1.1"/>
<line x1="323.5" y1="388.2" x2="326.1" y2="388.2" stroke="#222" stroke-width="0.9"/>
<text x="0" y="0" font-size="9.00" text-anchor="end" fill="#262626" transform="translate(319.5 390.7) scale(0.9 1)">0</text>
<line x1="323.5" y1="371.84999999999997" x2="326.1" y2="371.84999999999997" stroke="#222" stroke-width="0.9"/>
<text x="0" y="0" font-size="9.00" text-anchor="end" fill="#262626" transform="translate(319.5 374.34999999999997) scale(0.9 1)">1×10<tspan font-size="5.6" dy="-3.2">4</tspan></text>
<line x1="323.5" y1="355.5" x2="326.1" y2="355.5" stroke="#222" stroke-width="0.9"/>
<text x="0" y="0" font-size="9.00" text-anchor="end" fill="#262626" transform="translate(319.5 358.0) scale(0.9 1)">2×10<tspan font-size="5.6" dy="-3.2">4</tspan></text>
<line x1="323.5" y1="339.15" x2="326.1" y2="339.15" stroke="#222" stroke-width="0.9"/>
<text x="0" y="0" font-size="9.00" text-anchor="end" fill="#262626" transform="translate(319.5 341.65) scale(0.9 1)">3×10<tspan font-size="5.6" dy="-3.2">4</tspan></text>
<line x1="323.5" y1="322.79999999999995" x2="326.1" y2="322.79999999999995" stroke="#222" stroke-width="0.9"/>
<text x="0" y="0" font-size="9.00" text-anchor="end" fill="#262626" transform="translate(319.5 325.29999999999995) scale(0.9 1)">4×10<tspan font-size="5.6" dy="-3.2">4</tspan></text>
<line x1="323.5" y1="306.45" x2="326.1" y2="306.45" stroke="#222" stroke-width="0.9"/>
<text x="0" y="0" font-size="9.00" text-anchor="end" fill="#262626" transform="translate(319.5 308.95) scale(0.9 1)">5×10<tspan font-size="5.6" dy="-3.2">4</tspan></text>
<line x1="323.5" y1="290.09999999999997" x2="326.1" y2="290.09999999999997" stroke="#222" stroke-width="0.9"/>
<text x="0" y="0" font-size="9.00" text-anchor="end" fill="#262626" transform="translate(319.5 292.59999999999997) scale(0.9 1)">6×10<tspan font-size="5.6" dy="-3.2">4</tspan></text>
<line x1="331.7" y1="388.2" x2="331.7" y2="391.2" stroke="#222" stroke-width="0.9"/>
<line x1="340.9" y1="388.2" x2="340.9" y2="391.2" stroke="#222" stroke-width="0.9"/>
<line x1="350.3" y1="388.2" x2="350.3" y2="391.2" stroke="#222" stroke-width="0.9"/>
<line x1="359.6" y1="388.2" x2="359.6" y2="391.2" stroke="#222" stroke-width="0.9"/>
<line x1="368.9" y1="388.2" x2="368.9" y2="391.2" stroke="#222" stroke-width="0.9"/>
<line x1="378.2" y1="388.2" x2="378.2" y2="391.2" stroke="#222" stroke-width="0.9"/>
<circle cx="331.7" cy="373.75" r="1.7" fill="#ffffff" stroke="#5a5a5a" stroke-width="0.9"/>
<circle cx="331.7" cy="379.8" r="1.7" fill="#ffffff" stroke="#5a5a5a" stroke-width="0.9"/>
<circle cx="331.7" cy="384.7" r="1.7" fill="#ffffff" stroke="#5a5a5a" stroke-width="0.9"/>
<circle cx="339.2" cy="377.3" r="1.7" fill="#b4acd8" stroke="#3a3266" stroke-width="0.9"/>
<circle cx="342.0" cy="377.3" r="1.7" fill="#b4acd8" stroke="#3a3266" stroke-width="0.9"/>
<circle cx="350.3" cy="304.6" r="1.7" fill="#861020" stroke="#500810" stroke-width="0.9"/>
<circle cx="350.3" cy="324.5" r="1.7" fill="#861020" stroke="#500810" stroke-width="0.9"/>
<circle cx="350.3" cy="343.75" r="1.7" fill="#861020" stroke="#500810" stroke-width="0.9"/>
<circle cx="359.6" cy="332.0" r="1.7" fill="#7cc0e8" stroke="#184c6c" stroke-width="0.9"/>
<circle cx="359.6" cy="334.8" r="1.7" fill="#7cc0e8" stroke="#184c6c" stroke-width="0.9"/>
<circle cx="359.6" cy="357.5" r="1.7" fill="#7cc0e8" stroke="#184c6c" stroke-width="0.9"/>
<circle cx="368.9" cy="348.75" r="1.7" fill="#5cb460" stroke="#1a4a1e" stroke-width="0.9"/>
<circle cx="368.9" cy="366.4" r="1.7" fill="#5cb460" stroke="#1a4a1e" stroke-width="0.9"/>
<circle cx="368.9" cy="387.4" r="1.7" fill="#5cb460" stroke="#1a4a1e" stroke-width="0.9"/>
<circle cx="378.2" cy="366.4" r="1.7" fill="#7cc0e8" stroke="#184c6c" stroke-width="0.9"/>
<circle cx="376.8" cy="373.7" r="1.7" fill="#7cc0e8" stroke="#184c6c" stroke-width="0.9"/>
<circle cx="379.5" cy="372.4" r="1.7" fill="#7cc0e8" stroke="#184c6c" stroke-width="0.9"/>
<text x="0" y="0" font-size="9.33" text-anchor="start" fill="#262626" transform="translate(329.5 299.2) scale(0.9 1)">No Gpt</text>
<text x="0" y="0" font-size="9.22" text-anchor="start" fill="#262626" transform="translate(367.9 299.2) scale(0.9 1)">+ Gpt</text>
<text x="0" y="0" font-size="8.89" text-anchor="middle" fill="#262626" transform="translate(291.3 337.8) rotate(-90) scale(0.9 1)">CD8<tspan font-size="6.4" dy="-3.2">+</tspan><tspan dy="3.2"> T cells/mg</tspan></text>
<text x="403.2" y="279.6" font-size="11.8" text-anchor="start" fill="#111" font-weight="bold">E</text>
<rect x="448.8" y="382.5" width="5.0" height="5.699999999999989" fill="#dedede"/>
<rect x="458.0" y="366.25" width="5.0" height="21.94999999999999" fill="#c6c0e2"/>
<rect x="467.5" y="344.5" width="5.0" height="43.69999999999999" fill="#e27c72"/>
<rect x="476.7" y="328.75" width="5.0" height="59.44999999999999" fill="#b6d8f0"/>
<rect x="486.0" y="381.7" width="5.0" height="6.5" fill="#aad89a"/>
<rect x="495.4" y="382" width="5.0" height="6.199999999999989" fill="#b6d8f0"/>
<line x1="484.2" y1="289.2" x2="484.2" y2="388.2" stroke="#383838" stroke-width="1.05" stroke-dasharray="1.5 1.5"/>
<line x1="445.2" y1="287.59999999999997" x2="445.2" y2="388.7" stroke="#222" stroke-width="1.1"/>
<line x1="442.59999999999997" y1="388.2" x2="503.8" y2="388.2" stroke="#222" stroke-width="1.1"/>
<line x1="442.59999999999997" y1="388.2" x2="445.2" y2="388.2" stroke="#222" stroke-width="0.9"/>
<text x="0" y="0" font-size="9.00" text-anchor="end" fill="#262626" transform="translate(439.2 390.7) scale(0.9 1)">0</text>
<line x1="442.59999999999997" y1="368.59999999999997" x2="445.2" y2="368.59999999999997" stroke="#222" stroke-width="0.9"/>
<text x="0" y="0" font-size="9.00" text-anchor="end" fill="#262626" transform="translate(439.2 371.09999999999997) scale(0.9 1)">10</text>
<line x1="442.59999999999997" y1="349.0" x2="445.2" y2="349.0" stroke="#222" stroke-width="0.9"/>
<text x="0" y="0" font-size="9.00" text-anchor="end" fill="#262626" transform="translate(439.2 351.5) scale(0.9 1)">20</text>
<line x1="442.59999999999997" y1="329.4" x2="445.2" y2="329.4" stroke="#222" stroke-width="0.9"/>
<text x="0" y="0" font-size="9.00" text-anchor="end" fill="#262626" transform="translate(439.2 331.9) scale(0.9 1)">30</text>
<line x1="442.59999999999997" y1="309.79999999999995" x2="445.2" y2="309.79999999999995" stroke="#222" stroke-width="0.9"/>
<text x="0" y="0" font-size="9.00" text-anchor="end" fill="#262626" transform="translate(439.2 312.29999999999995) scale(0.9 1)">40</text>
<line x1="442.59999999999997" y1="290.2" x2="445.2" y2="290.2" stroke="#222" stroke-width="0.9"/>
<text x="0" y="0" font-size="9.00" text-anchor="end" fill="#262626" transform="translate(439.2 292.7) scale(0.9 1)">50</text>
<line x1="451.3" y1="388.2" x2="451.3" y2="391.2" stroke="#222" stroke-width="0.9"/>
<line x1="460.5" y1="388.2" x2="460.5" y2="391.2" stroke="#222" stroke-width="0.9"/>
<line x1="470.0" y1="388.2" x2="470.0" y2="391.2" stroke="#222" stroke-width="0.9"/>
<line x1="479.2" y1="388.2" x2="479.2" y2="391.2" stroke="#222" stroke-width="0.9"/>
<line x1="488.5" y1="388.2" x2="488.5" y2="391.2" stroke="#222" stroke-width="0.9"/>
<line x1="497.9" y1="388.2" x2="497.9" y2="391.2" stroke="#222" stroke-width="0.9"/>
<circle cx="449.85" cy="382.1" r="1.7" fill="#ffffff" stroke="#5a5a5a" stroke-width="0.9"/>
<circle cx="452.45" cy="380.7" r="1.7" fill="#ffffff" stroke="#5a5a5a" stroke-width="0.9"/>
<circle cx="460.5" cy="352.5" r="1.7" fill="#b4acd8" stroke="#3a3266" stroke-width="0.9"/>
<circle cx="460.5" cy="378.1" r="1.7" fill="#b4acd8" stroke="#3a3266" stroke-width="0.9"/>
<circle cx="470.0" cy="310.3" r="1.7" fill="#861020" stroke="#500810" stroke-width="0.9"/>
<circle cx="470.0" cy="353" r="1.7" fill="#861020" stroke="#500810" stroke-width="0.9"/>
<circle cx="470.0" cy="368.4" r="1.7" fill="#861020" stroke="#500810" stroke-width="0.9"/>
<circle cx="479.2" cy="302.5" r="1.7" fill="#7cc0e8" stroke="#184c6c" stroke-width="0.9"/>
<circle cx="479.2" cy="327.5" r="1.7" fill="#7cc0e8" stroke="#184c6c" stroke-width="0.9"/>
<circle cx="479.2" cy="342" r="1.7" fill="#7cc0e8" stroke="#184c6c" stroke-width="0.9"/>
<circle cx="488.8" cy="372.4" r="1.7" fill="#5cb460" stroke="#1a4a1e" stroke-width="0.9"/>
<circle cx="487.2" cy="379.3" r="1.7" fill="#5cb460" stroke="#1a4a1e" stroke-width="0.9"/>
<circle cx="490.1" cy="379" r="1.7" fill="#5cb460" stroke="#1a4a1e" stroke-width="0.9"/>
<circle cx="497.5" cy="380.4" r="1.7" fill="#7cc0e8" stroke="#184c6c" stroke-width="0.9"/>
<circle cx="499.0" cy="379.6" r="1.7" fill="#7cc0e8" stroke="#184c6c" stroke-width="0.9"/>
<circle cx="500.29999999999995" cy="380.6" r="1.7" fill="#7cc0e8" stroke="#184c6c" stroke-width="0.9"/>
<text x="0" y="0" font-size="9.33" text-anchor="start" fill="#262626" transform="translate(449.5 299.2) scale(0.9 1)">No Gpt</text>
<text x="0" y="0" font-size="9.22" text-anchor="start" fill="#262626" transform="translate(488.5 299.2) scale(0.9 1)">+ Gpt</text>
<text x="0" y="0" font-size="8.89" text-anchor="middle" fill="#262626" transform="translate(423.6 337.5) rotate(-90) scale(0.9 1)">%GzmB<tspan font-size="6.4" dy="-3.2">+</tspan><tspan dy="3.2"> of CD8</tspan><tspan font-size="6.4" dy="-3.2">+</tspan></text>
<text x="284.2" y="411.7" font-size="11.8" text-anchor="start" fill="#111" font-weight="bold">F</text>
<rect x="329.2" y="513" width="5.0" height="5.5" fill="#dedede"/>
<rect x="338.4" y="498.75" width="5.0" height="19.75" fill="#c6c0e2"/>
<rect x="347.8" y="470" width="5.0" height="48.5" fill="#e27c72"/>
<rect x="357.1" y="455" width="5.0" height="63.5" fill="#b6d8f0"/>
<rect x="366.4" y="457.5" width="5.0" height="61.0" fill="#aad89a"/>
<rect x="375.7" y="493.75" width="5.0" height="24.75" fill="#b6d8f0"/>
<line x1="364.4" y1="419.3" x2="364.4" y2="518.5" stroke="#383838" stroke-width="1.05" stroke-dasharray="1.5 1.5"/>
<line x1="326.2" y1="417.7" x2="326.2" y2="519.0" stroke="#222" stroke-width="1.1"/>
<line x1="323.59999999999997" y1="518.5" x2="384" y2="518.5" stroke="#222" stroke-width="1.1"/>
<line x1="323.59999999999997" y1="518.5" x2="326.2" y2="518.5" stroke="#222" stroke-width="0.9"/>
<text x="0" y="0" font-size="9.00" text-anchor="end" fill="#262626" transform="translate(319.9 521.0) scale(0.9 1)">0</text>
<line x1="323.59999999999997" y1="493.95" x2="326.2" y2="493.95" stroke="#222" stroke-width="0.9"/>
<text x="0" y="0" font-size="9.00" text-anchor="end" fill="#262626" transform="translate(319.9 496.45) scale(0.9 1)">20</text>
<line x1="323.59999999999997" y1="469.4" x2="326.2" y2="469.4" stroke="#222" stroke-width="0.9"/>
<text x="0" y="0" font-size="9.00" text-anchor="end" fill="#262626" transform="translate(319.9 471.9) scale(0.9 1)">40</text>
<line x1="323.59999999999997" y1="444.85" x2="326.2" y2="444.85" stroke="#222" stroke-width="0.9"/>
<text x="0" y="0" font-size="9.00" text-anchor="end" fill="#262626" transform="translate(319.9 447.35) scale(0.9 1)">60</text>
<line x1="323.59999999999997" y1="420.3" x2="326.2" y2="420.3" stroke="#222" stroke-width="0.9"/>
<text x="0" y="0" font-size="9.00" text-anchor="end" fill="#262626" transform="translate(319.9 422.8) scale(0.9 1)">80</text>
<line x1="331.7" y1="518.5" x2="331.7" y2="521.5" stroke="#222" stroke-width="0.9"/>
<line x1="340.9" y1="518.5" x2="340.9" y2="521.5" stroke="#222" stroke-width="0.9"/>
<line x1="350.3" y1="518.5" x2="350.3" y2="521.5" stroke="#222" stroke-width="0.9"/>
<line x1="359.6" y1="518.5" x2="359.6" y2="521.5" stroke="#222" stroke-width="0.9"/>
<line x1="368.9" y1="518.5" x2="368.9" y2="521.5" stroke="#222" stroke-width="0.9"/>
<line x1="378.2" y1="518.5" x2="378.2" y2="521.5" stroke="#222" stroke-width="0.9"/>
<circle cx="331.7" cy="494.5" r="1.7" fill="#ffffff" stroke="#5a5a5a" stroke-width="0.9"/>
<circle cx="331.7" cy="504.9" r="1.7" fill="#ffffff" stroke="#5a5a5a" stroke-width="0.9"/>
<circle cx="331.7" cy="510.1" r="1.7" fill="#ffffff" stroke="#5a5a5a" stroke-width="0.9"/>
<circle cx="340.9" cy="486.25" r="1.7" fill="#b4acd8" stroke="#3a3266" stroke-width="0.9"/>
<circle cx="340.9" cy="509.2" r="1.7" fill="#b4acd8" stroke="#3a3266" stroke-width="0.9"/>
<circle cx="350.3" cy="448.75" r="1.7" fill="#861020" stroke="#500810" stroke-width="0.9"/>
<circle cx="350.3" cy="468.75" r="1.7" fill="#861020" stroke="#500810" stroke-width="0.9"/>
<circle cx="350.3" cy="483" r="1.7" fill="#861020" stroke="#500810" stroke-width="0.9"/>
<circle cx="359.6" cy="442.5" r="1.7" fill="#7cc0e8" stroke="#184c6c" stroke-width="0.9"/>
<circle cx="359.6" cy="447.5" r="1.7" fill="#7cc0e8" stroke="#184c6c" stroke-width="0.9"/>
<circle cx="359.6" cy="471.25" r="1.7" fill="#7cc0e8" stroke="#184c6c" stroke-width="0.9"/>
<circle cx="366.75" cy="451.75" r="1.7" fill="#5cb460" stroke="#1a4a1e" stroke-width="0.9"/>
<circle cx="371.04999999999995" cy="451.75" r="1.7" fill="#5cb460" stroke="#1a4a1e" stroke-width="0.9"/>
<circle cx="368.9" cy="465.5" r="1.7" fill="#5cb460" stroke="#1a4a1e" stroke-width="0.9"/>
<circle cx="378.2" cy="486.25" r="1.7" fill="#7cc0e8" stroke="#184c6c" stroke-width="0.9"/>
<circle cx="376.4" cy="494" r="1.7" fill="#7cc0e8" stroke="#184c6c" stroke-width="0.9"/>
<circle cx="380.0" cy="493" r="1.7" fill="#7cc0e8" stroke="#184c6c" stroke-width="0.9"/>
<text x="0" y="0" font-size="9.33" text-anchor="start" fill="#262626" transform="translate(330.5 429.5) scale(0.9 1)">No Gpt</text>
<text x="0" y="0" font-size="9.22" text-anchor="start" fill="#262626" transform="translate(368 429.5) scale(0.9 1)">+ Gpt</text>
<text x="0" y="0" font-size="8.89" text-anchor="middle" fill="#262626" transform="translate(305.3 468.8) rotate(-90) scale(0.9 1)">%Ki-67<tspan font-size="6.4" dy="-3.2">+</tspan><tspan dy="3.2"> of CD8</tspan><tspan font-size="6.4" dy="-3.2">+</tspan></text>
<text x="402.5" y="411.8" font-size="11.8" text-anchor="start" fill="#111" font-weight="bold">G</text>
<rect x="448.8" y="505" width="5.0" height="13.100000000000023" fill="#dedede"/>
<rect x="458.0" y="502.5" width="5.0" height="15.600000000000023" fill="#c6c0e2"/>
<rect x="467.5" y="458" width="5.0" height="60.10000000000002" fill="#e27c72"/>
<rect x="476.7" y="472" width="5.0" height="46.10000000000002" fill="#b6d8f0"/>
<rect x="486.0" y="503" width="5.0" height="15.100000000000023" fill="#aad89a"/>
<rect x="495.4" y="505" width="5.0" height="13.100000000000023" fill="#b6d8f0"/>
<line x1="484.0" y1="420.1" x2="484.0" y2="518.1" stroke="#383838" stroke-width="1.05" stroke-dasharray="1.5 1.5"/>
<line x1="445.0" y1="418.5" x2="445.0" y2="518.6" stroke="#222" stroke-width="1.1"/>
<line x1="442.4" y1="518.1" x2="503.8" y2="518.1" stroke="#222" stroke-width="1.1"/>
<line x1="442.4" y1="518.1" x2="445.0" y2="518.1" stroke="#222" stroke-width="0.9"/>
<text x="0" y="0" font-size="9.00" text-anchor="end" fill="#262626" transform="translate(439.4 520.6) scale(0.9 1)">0</text>
<line x1="442.4" y1="498.70000000000005" x2="445.0" y2="498.70000000000005" stroke="#222" stroke-width="0.9"/>
<text x="0" y="0" font-size="9.00" text-anchor="end" fill="#262626" transform="translate(439.4 501.20000000000005) scale(0.9 1)">1×10<tspan font-size="5.6" dy="-3.2">4</tspan></text>
<line x1="442.4" y1="479.3" x2="445.0" y2="479.3" stroke="#222" stroke-width="0.9"/>
<text x="0" y="0" font-size="9.00" text-anchor="end" fill="#262626" transform="translate(439.4 481.8) scale(0.9 1)">2×10<tspan font-size="5.6" dy="-3.2">4</tspan></text>
<line x1="442.4" y1="459.90000000000003" x2="445.0" y2="459.90000000000003" stroke="#222" stroke-width="0.9"/>
<text x="0" y="0" font-size="9.00" text-anchor="end" fill="#262626" transform="translate(439.4 462.40000000000003) scale(0.9 1)">3×10<tspan font-size="5.6" dy="-3.2">4</tspan></text>
<line x1="442.4" y1="440.5" x2="445.0" y2="440.5" stroke="#222" stroke-width="0.9"/>
<text x="0" y="0" font-size="9.00" text-anchor="end" fill="#262626" transform="translate(439.4 443.0) scale(0.9 1)">4×10<tspan font-size="5.6" dy="-3.2">4</tspan></text>
<line x1="442.4" y1="421.1" x2="445.0" y2="421.1" stroke="#222" stroke-width="0.9"/>
<text x="0" y="0" font-size="9.00" text-anchor="end" fill="#262626" transform="translate(439.4 423.6) scale(0.9 1)">5×10<tspan font-size="5.6" dy="-3.2">4</tspan></text>
<line x1="451.3" y1="518.1" x2="451.3" y2="521.1" stroke="#222" stroke-width="0.9"/>
<line x1="460.5" y1="518.1" x2="460.5" y2="521.1" stroke="#222" stroke-width="0.9"/>
<line x1="470.0" y1="518.1" x2="470.0" y2="521.1" stroke="#222" stroke-width="0.9"/>
<line x1="479.2" y1="518.1" x2="479.2" y2="521.1" stroke="#222" stroke-width="0.9"/>
<line x1="488.5" y1="518.1" x2="488.5" y2="521.1" stroke="#222" stroke-width="0.9"/>
<line x1="497.9" y1="518.1" x2="497.9" y2="521.1" stroke="#222" stroke-width="0.9"/>
<circle cx="450.05" cy="497" r="1.7" fill="#ffffff" stroke="#5a5a5a" stroke-width="0.9"/>
<circle cx="452.55" cy="498.5" r="1.7" fill="#ffffff" stroke="#5a5a5a" stroke-width="0.9"/>
<circle cx="451.3" cy="513" r="1.7" fill="#ffffff" stroke="#5a5a5a" stroke-width="0.9"/>
<circle cx="460.5" cy="500" r="1.7" fill="#b4acd8" stroke="#3a3266" stroke-width="0.9"/>
<circle cx="460.5" cy="503.75" r="1.7" fill="#b4acd8" stroke="#3a3266" stroke-width="0.9"/>
<circle cx="470.0" cy="436.25" r="1.7" fill="#861020" stroke="#500810" stroke-width="0.9"/>
<circle cx="468.0" cy="467" r="1.7" fill="#861020" stroke="#500810" stroke-width="0.9"/>
<circle cx="472.0" cy="466.5" r="1.7" fill="#861020" stroke="#500810" stroke-width="0.9"/>
<circle cx="479.2" cy="440.5" r="1.7" fill="#7cc0e8" stroke="#184c6c" stroke-width="0.9"/>
<circle cx="479.2" cy="481.25" r="1.7" fill="#7cc0e8" stroke="#184c6c" stroke-width="0.9"/>
<circle cx="479.2" cy="489.25" r="1.7" fill="#7cc0e8" stroke="#184c6c" stroke-width="0.9"/>
<circle cx="488.5" cy="481.25" r="1.7" fill="#5cb460" stroke="#1a4a1e" stroke-width="0.9"/>
<circle cx="488.5" cy="501.25" r="1.7" fill="#5cb460" stroke="#1a4a1e" stroke-width="0.9"/>
<circle cx="488.5" cy="517.5" r="1.7" fill="#5cb460" stroke="#1a4a1e" stroke-width="0.9"/>
<circle cx="497.9" cy="497" r="1.7" fill="#7cc0e8" stroke="#184c6c" stroke-width="0.9"/>
<circle cx="497.9" cy="503.75" r="1.7" fill="#7cc0e8" stroke="#184c6c" stroke-width="0.9"/>
<circle cx="497.9" cy="509.5" r="1.7" fill="#7cc0e8" stroke="#184c6c" stroke-width="0.9"/>
<text x="0" y="0" font-size="9.33" text-anchor="start" fill="#262626" transform="translate(449.5 429.5) scale(0.9 1)">No Gpt</text>
<text x="0" y="0" font-size="9.22" text-anchor="start" fill="#262626" transform="translate(488 429.5) scale(0.9 1)">+ Gpt</text>
<text x="0" y="0" font-size="8.89" text-anchor="middle" fill="#262626" transform="translate(411.2 468.5) rotate(-90) scale(0.9 1)">CD4<tspan font-size="6.4" dy="-3.2">+</tspan><tspan dy="3.2"> T cells/mg</tspan></text>
<text x="283.2" y="538.2" font-size="11.8" text-anchor="start" fill="#111" font-weight="bold">H</text>
<rect x="329.2" y="629" width="5.0" height="14.700000000000045" fill="#dedede"/>
<rect x="338.4" y="628" width="5.0" height="15.700000000000045" fill="#c6c0e2"/>
<rect x="347.8" y="628" width="5.0" height="15.700000000000045" fill="#e27c72"/>
<rect x="357.1" y="596.25" width="5.0" height="47.450000000000045" fill="#b6d8f0"/>
<rect x="366.4" y="585" width="5.0" height="58.700000000000045" fill="#aad89a"/>
<rect x="375.7" y="622.5" width="5.0" height="21.200000000000045" fill="#b6d8f0"/>
<line x1="364.4" y1="545.4000000000001" x2="364.4" y2="643.7" stroke="#383838" stroke-width="1.05" stroke-dasharray="1.5 1.5"/>
<line x1="326.2" y1="543.8000000000001" x2="326.2" y2="644.2" stroke="#222" stroke-width="1.1"/>
<line x1="323.59999999999997" y1="643.7" x2="384" y2="643.7" stroke="#222" stroke-width="1.1"/>
<line x1="323.59999999999997" y1="643.7" x2="326.2" y2="643.7" stroke="#222" stroke-width="0.9"/>
<text x="0" y="0" font-size="9.00" text-anchor="end" fill="#262626" transform="translate(320.2 646.2) scale(0.9 1)">0</text>
<line x1="323.59999999999997" y1="624.24" x2="326.2" y2="624.24" stroke="#222" stroke-width="0.9"/>
<text x="0" y="0" font-size="9.00" text-anchor="end" fill="#262626" transform="translate(320.2 626.74) scale(0.9 1)">10</text>
<line x1="323.59999999999997" y1="604.7800000000001" x2="326.2" y2="604.7800000000001" stroke="#222" stroke-width="0.9"/>
<text x="0" y="0" font-size="9.00" text-anchor="end" fill="#262626" transform="translate(320.2 607.2800000000001) scale(0.9 1)">20</text>
<line x1="323.59999999999997" y1="585.32" x2="326.2" y2="585.32" stroke="#222" stroke-width="0.9"/>
<text x="0" y="0" font-size="9.00" text-anchor="end" fill="#262626" transform="translate(320.2 587.82) scale(0.9 1)">30</text>
<line x1="323.59999999999997" y1="565.86" x2="326.2" y2="565.86" stroke="#222" stroke-width="0.9"/>
<text x="0" y="0" font-size="9.00" text-anchor="end" fill="#262626" transform="translate(320.2 568.36) scale(0.9 1)">40</text>
<line x1="323.59999999999997" y1="546.4000000000001" x2="326.2" y2="546.4000000000001" stroke="#222" stroke-width="0.9"/>
<text x="0" y="0" font-size="9.00" text-anchor="end" fill="#262626" transform="translate(320.2 548.9000000000001) scale(0.9 1)">50</text>
<line x1="331.7" y1="643.7" x2="331.7" y2="646.7" stroke="#222" stroke-width="0.9"/>
<line x1="340.9" y1="643.7" x2="340.9" y2="646.7" stroke="#222" stroke-width="0.9"/>
<line x1="350.3" y1="643.7" x2="350.3" y2="646.7" stroke="#222" stroke-width="0.9"/>
<line x1="359.6" y1="643.7" x2="359.6" y2="646.7" stroke="#222" stroke-width="0.9"/>
<line x1="368.9" y1="643.7" x2="368.9" y2="646.7" stroke="#222" stroke-width="0.9"/>
<line x1="378.2" y1="643.7" x2="378.2" y2="646.7" stroke="#222" stroke-width="0.9"/>
<circle cx="331.7" cy="613.1" r="1.7" fill="#ffffff" stroke="#5a5a5a" stroke-width="0.9"/>
<circle cx="331.7" cy="624.3" r="1.7" fill="#ffffff" stroke="#5a5a5a" stroke-width="0.9"/>
<circle cx="331.7" cy="627.1" r="1.7" fill="#ffffff" stroke="#5a5a5a" stroke-width="0.9"/>
<circle cx="340.9" cy="621.75" r="1.7" fill="#b4acd8" stroke="#3a3266" stroke-width="0.9"/>
<circle cx="340.9" cy="630" r="1.7" fill="#b4acd8" stroke="#3a3266" stroke-width="0.9"/>
<circle cx="350.3" cy="618" r="1.7" fill="#861020" stroke="#500810" stroke-width="0.9"/>
<circle cx="348.40000000000003" cy="627.5" r="1.7" fill="#861020" stroke="#500810" stroke-width="0.9"/>
<circle cx="352.2" cy="627" r="1.7" fill="#861020" stroke="#500810" stroke-width="0.9"/>
<circle cx="359.6" cy="597.5" r="1.7" fill="#7cc0e8" stroke="#184c6c" stroke-width="0.9"/>
<circle cx="359.6" cy="601.25" r="1.7" fill="#7cc0e8" stroke="#184c6c" stroke-width="0.9"/>
<circle cx="359.6" cy="607.5" r="1.7" fill="#7cc0e8" stroke="#184c6c" stroke-width="0.9"/>
<circle cx="368.9" cy="563.75" r="1.7" fill="#5cb460" stroke="#1a4a1e" stroke-width="0.9"/>
<circle cx="368.9" cy="590" r="1.7" fill="#5cb460" stroke="#1a4a1e" stroke-width="0.9"/>
<circle cx="368.9" cy="600.75" r="1.7" fill="#5cb460" stroke="#1a4a1e" stroke-width="0.9"/>
<circle cx="375.9" cy="622.5" r="1.7" fill="#7cc0e8" stroke="#184c6c" stroke-width="0.9"/>
<circle cx="378.2" cy="622" r="1.7" fill="#7cc0e8" stroke="#184c6c" stroke-width="0.9"/>
<circle cx="380.5" cy="622.5" r="1.7" fill="#7cc0e8" stroke="#184c6c" stroke-width="0.9"/>
<text x="0" y="0" font-size="9.33" text-anchor="start" fill="#262626" transform="translate(330.5 554.5) scale(0.9 1)">No Gpt</text>
<text x="0" y="0" font-size="9.22" text-anchor="start" fill="#262626" transform="translate(368 554.5) scale(0.9 1)">+ Gpt</text>
<text x="0" y="0" font-size="8.89" text-anchor="middle" fill="#262626" transform="translate(305.3 595.6) rotate(-90) scale(0.9 1)">%Ki-67<tspan font-size="6.4" dy="-3.2">+</tspan><tspan dy="3.2"> of CD4</tspan><tspan font-size="6.4" dy="-3.2">+</tspan></text>
<text x="405.2" y="538.2" font-size="11.8" text-anchor="start" fill="#111" font-weight="bold">I</text>
<rect x="448.8" y="601.25" width="5.0" height="42.14999999999998" fill="#dedede"/>
<rect x="458.0" y="572" width="5.0" height="71.39999999999998" fill="#c6c0e2"/>
<rect x="467.5" y="643" width="5.0" height="0.39999999999997726" fill="#e27c72"/>
<rect x="476.7" y="643" width="5.0" height="0.39999999999997726" fill="#b6d8f0"/>
<rect x="486.0" y="643" width="5.0" height="0.39999999999997726" fill="#aad89a"/>
<rect x="495.4" y="643" width="5.0" height="0.39999999999997726" fill="#b6d8f0"/>
<line x1="483" y1="546.1999999999999" x2="483" y2="643.4" stroke="#383838" stroke-width="1.05" stroke-dasharray="1.5 1.5"/>
<line x1="445.0" y1="544.5999999999999" x2="445.0" y2="643.9" stroke="#222" stroke-width="1.1"/>
<line x1="442.4" y1="643.4" x2="503.8" y2="643.4" stroke="#222" stroke-width="1.1"/>
<line x1="442.4" y1="643.4" x2="445.0" y2="643.4" stroke="#222" stroke-width="0.9"/>
<text x="0" y="0" font-size="9.00" text-anchor="end" fill="#262626" transform="translate(439.4 645.9) scale(0.9 1)">0</text>
<line x1="442.4" y1="619.35" x2="445.0" y2="619.35" stroke="#222" stroke-width="0.9"/>
<text x="0" y="0" font-size="9.00" text-anchor="end" fill="#262626" transform="translate(439.4 621.85) scale(0.9 1)">1×10<tspan font-size="5.6" dy="-3.2">4</tspan></text>
<line x1="442.4" y1="595.3" x2="445.0" y2="595.3" stroke="#222" stroke-width="0.9"/>
<text x="0" y="0" font-size="9.00" text-anchor="end" fill="#262626" transform="translate(439.4 597.8) scale(0.9 1)">2×10<tspan font-size="5.6" dy="-3.2">4</tspan></text>
<line x1="442.4" y1="571.25" x2="445.0" y2="571.25" stroke="#222" stroke-width="0.9"/>
<text x="0" y="0" font-size="9.00" text-anchor="end" fill="#262626" transform="translate(439.4 573.75) scale(0.9 1)">3×10<tspan font-size="5.6" dy="-3.2">4</tspan></text>
<line x1="442.4" y1="547.1999999999999" x2="445.0" y2="547.1999999999999" stroke="#222" stroke-width="0.9"/>
<text x="0" y="0" font-size="9.00" text-anchor="end" fill="#262626" transform="translate(439.4 549.6999999999999) scale(0.9 1)">4×10<tspan font-size="5.6" dy="-3.2">4</tspan></text>
<line x1="451.3" y1="643.4" x2="451.3" y2="646.4" stroke="#222" stroke-width="0.9"/>
<line x1="460.5" y1="643.4" x2="460.5" y2="646.4" stroke="#222" stroke-width="0.9"/>
<line x1="470.0" y1="643.4" x2="470.0" y2="646.4" stroke="#222" stroke-width="0.9"/>
<line x1="479.2" y1="643.4" x2="479.2" y2="646.4" stroke="#222" stroke-width="0.9"/>
<line x1="488.5" y1="643.4" x2="488.5" y2="646.4" stroke="#222" stroke-width="0.9"/>
<line x1="497.9" y1="643.4" x2="497.9" y2="646.4" stroke="#222" stroke-width="0.9"/>
<circle cx="451.3" cy="557" r="1.7" fill="#ffffff" stroke="#5a5a5a" stroke-width="0.9"/>
<circle cx="451.3" cy="601.25" r="1.7" fill="#ffffff" stroke="#5a5a5a" stroke-width="0.9"/>
<circle cx="451.3" cy="633.75" r="1.7" fill="#ffffff" stroke="#5a5a5a" stroke-width="0.9"/>
<circle cx="460.5" cy="561.25" r="1.7" fill="#b4acd8" stroke="#3a3266" stroke-width="0.9"/>
<circle cx="460.5" cy="580.5" r="1.7" fill="#b4acd8" stroke="#3a3266" stroke-width="0.9"/>
<circle cx="468.6" cy="643" r="1.7" fill="#861020" stroke="#500810" stroke-width="0.9"/>
<circle cx="470.0" cy="642.5" r="1.7" fill="#861020" stroke="#500810" stroke-width="0.9"/>
<circle cx="471.4" cy="643" r="1.7" fill="#861020" stroke="#500810" stroke-width="0.9"/>
<circle cx="477.8" cy="643" r="1.7" fill="#7cc0e8" stroke="#184c6c" stroke-width="0.9"/>
<circle cx="479.2" cy="642.5" r="1.7" fill="#7cc0e8" stroke="#184c6c" stroke-width="0.9"/>
<circle cx="480.59999999999997" cy="643" r="1.7" fill="#7cc0e8" stroke="#184c6c" stroke-width="0.9"/>
<circle cx="487.1" cy="643" r="1.7" fill="#5cb460" stroke="#1a4a1e" stroke-width="0.9"/>
<circle cx="488.5" cy="642.5" r="1.7" fill="#5cb460" stroke="#1a4a1e" stroke-width="0.9"/>
<circle cx="489.9" cy="643" r="1.7" fill="#5cb460" stroke="#1a4a1e" stroke-width="0.9"/>
<circle cx="496.5" cy="643" r="1.7" fill="#7cc0e8" stroke="#184c6c" stroke-width="0.9"/>
<circle cx="497.9" cy="642.5" r="1.7" fill="#7cc0e8" stroke="#184c6c" stroke-width="0.9"/>
<circle cx="499.29999999999995" cy="643" r="1.7" fill="#7cc0e8" stroke="#184c6c" stroke-width="0.9"/>
<text x="0" y="0" font-size="9.33" text-anchor="start" fill="#262626" transform="translate(450 551.25) scale(0.9 1)">No Gpt</text>
<text x="0" y="0" font-size="9.22" text-anchor="start" fill="#262626" transform="translate(488.75 551.25) scale(0.9 1)">+ Gpt</text>
<text x="0" y="0" font-size="8.89" text-anchor="middle" fill="#262626" transform="translate(411.2 596) rotate(-90) scale(0.9 1)">CD20<tspan font-size="6.4" dy="-3.2">+</tspan><tspan dy="3.2"> B cells/mg</tspan></text>
<rect x="343.6" y="657" width="5.8" height="5.6" fill="#cccccc"/>
<text x="0" y="0" font-size="8.56" text-anchor="start" fill="#262626" transform="translate(351.8 662.4) scale(0.9 1)">Vehicle</text>
<rect x="343.6" y="668.5" width="5.8" height="5.6" fill="#9c94cc"/>
<text x="0" y="0" font-size="8.56" text-anchor="start" fill="#262626" transform="translate(351.8 673.9) scale(0.9 1)">CD19-CD28</text>
<rect x="343.6" y="680" width="5.8" height="5.6" fill="#c0102c"/>
<text x="0" y="0" font-size="8.56" text-anchor="start" fill="#262626" transform="translate(351.8 685.4) scale(0.9 1)">Glofitamab</text>
<rect x="402.4" y="657" width="5.8" height="5.6" fill="#3aa040"/>
<text x="0" y="0" font-size="8.56" text-anchor="start" fill="#262626" transform="translate(410.59999999999997 662.4) scale(0.9 1)">Combo simultaneously</text>
<rect x="402.4" y="668.5" width="5.8" height="5.6" fill="#3aa8e0"/>
<text x="0" y="0" font-size="8.56" text-anchor="start" fill="#262626" transform="translate(410.59999999999997 673.9) scale(0.9 1)">Combo sequentially</text>
<text x="6.4" y="417.5" font-size="12.2" text-anchor="start" fill="#111" font-weight="bold">J</text>
<line x1="48.5" y1="446.5" x2="48.5" y2="608.1" stroke="#111" stroke-width="1.0"/>
<line x1="48.5" y1="608.1" x2="234" y2="608.1" stroke="#111" stroke-width="1.0"/>
<line x1="45.8" y1="600.7" x2="48.5" y2="600.7" stroke="#111" stroke-width="0.9"/>
<text x="0" y="0" font-size="9.00" text-anchor="end" fill="#262626" transform="translate(42.3 603.5) scale(0.9 1)">0</text>
<line x1="45.8" y1="562.5" x2="48.5" y2="562.5" stroke="#111" stroke-width="0.9"/>
<text x="0" y="0" font-size="9.00" text-anchor="end" fill="#262626" transform="translate(42.3 565.3) scale(0.9 1)">10</text>
<line x1="45.8" y1="524.3000000000001" x2="48.5" y2="524.3000000000001" stroke="#111" stroke-width="0.9"/>
<text x="0" y="0" font-size="9.00" text-anchor="end" fill="#262626" transform="translate(42.3 527.1) scale(0.9 1)">20</text>
<line x1="45.8" y1="486.1" x2="48.5" y2="486.1" stroke="#111" stroke-width="0.9"/>
<text x="0" y="0" font-size="9.00" text-anchor="end" fill="#262626" transform="translate(42.3 488.90000000000003) scale(0.9 1)">30</text>
<line x1="45.8" y1="447.9000000000001" x2="48.5" y2="447.9000000000001" stroke="#111" stroke-width="0.9"/>
<text x="0" y="0" font-size="9.00" text-anchor="end" fill="#262626" transform="translate(42.3 450.7000000000001) scale(0.9 1)">40</text>
<line x1="58.2" y1="608.1" x2="58.2" y2="611.2" stroke="#111" stroke-width="0.9"/>
<line x1="74.63" y1="608.1" x2="74.63" y2="611.2" stroke="#111" stroke-width="0.9"/>
<line x1="91.06" y1="608.1" x2="91.06" y2="611.2" stroke="#111" stroke-width="0.9"/>
<line x1="107.49000000000001" y1="608.1" x2="107.49000000000001" y2="611.2" stroke="#111" stroke-width="0.9"/>
<line x1="123.92" y1="608.1" x2="123.92" y2="611.2" stroke="#111" stroke-width="0.9"/>
<line x1="140.35000000000002" y1="608.1" x2="140.35000000000002" y2="611.2" stroke="#111" stroke-width="0.9"/>
<line x1="156.78" y1="608.1" x2="156.78" y2="611.2" stroke="#111" stroke-width="0.9"/>
<line x1="173.20999999999998" y1="608.1" x2="173.20999999999998" y2="611.2" stroke="#111" stroke-width="0.9"/>
<line x1="189.64" y1="608.1" x2="189.64" y2="611.2" stroke="#111" stroke-width="0.9"/>
<line x1="206.07" y1="608.1" x2="206.07" y2="611.2" stroke="#111" stroke-width="0.9"/>
<line x1="222.5" y1="608.1" x2="222.5" y2="611.2" stroke="#111" stroke-width="0.9"/>
<line x1="48.5" y1="600.7" x2="234" y2="600.7" stroke="#6e6262" stroke-width="1.2" stroke-dasharray="2.6 1.8"/>
<text x="0" y="0" font-size="8.33" text-anchor="middle" fill="#262626" transform="translate(28.6 526.3) rotate(-90) scale(0.9 1)">Fold change relative to C1D1 pre dose</text>
<text x="0" y="0" font-size="9.22" text-anchor="end" fill="#262626" transform="translate(61.2 617.6) rotate(-45) scale(0.9 1)">C1D1 pre dose</text>
<text x="0" y="0" font-size="9.22" text-anchor="end" fill="#262626" transform="translate(77.63 617.6) rotate(-45) scale(0.9 1)">C1D1 end of infusion</text>
<text x="0" y="0" font-size="9.22" text-anchor="end" fill="#262626" transform="translate(94.06 617.6) rotate(-45) scale(0.9 1)">C1D8 pre dose</text>
<text x="0" y="0" font-size="9.22" text-anchor="end" fill="#262626" transform="translate(110.49000000000001 617.6) rotate(-45) scale(0.9 1)">C1D8 end of infusion</text>
<text x="0" y="0" font-size="9.22" text-anchor="end" fill="#262626" transform="translate(126.92 617.6) rotate(-45) scale(0.9 1)">C2D1 pre dose</text>
<text x="0" y="0" font-size="9.22" text-anchor="end" fill="#262626" transform="translate(143.35000000000002 617.6) rotate(-45) scale(0.9 1)">C2D1 end of infusion</text>
<text x="0" y="0" font-size="9.22" text-anchor="end" fill="#262626" transform="translate(159.78 617.6) rotate(-45) scale(0.9 1)">C2D8 pre dose</text>
<text x="0" y="0" font-size="9.22" text-anchor="end" fill="#262626" transform="translate(176.20999999999998 617.6) rotate(-45) scale(0.9 1)">C2D8 end of infusion</text>
<text x="0" y="0" font-size="9.22" text-anchor="end" fill="#262626" transform="translate(192.64 617.6) rotate(-45) scale(0.9 1)">C3D1 pre dose</text>
<text x="0" y="0" font-size="9.22" text-anchor="end" fill="#262626" transform="translate(209.07 617.6) rotate(-45) scale(0.9 1)">C3D1 end of infusion</text>
<text x="0" y="0" font-size="9.22" text-anchor="end" fill="#262626" transform="translate(225.5 617.6) rotate(-45) scale(0.9 1)">C4D1 pre dose</text>
<text x="0" y="0" font-size="9.11" text-anchor="middle" fill="#262626" transform="translate(68.6 430.6) scale(0.9 1)">Glofitamab</text>
<text x="0" y="0" font-size="9.11" text-anchor="middle" fill="#262626" transform="translate(68.6 440.2) scale(0.9 1)">2.5 mg</text>
<line x1="58.2" y1="445.5" x2="81" y2="445.5" stroke="#111" stroke-width="0.9" stroke-dasharray="2.6 1.8"/>
<line x1="58.2" y1="445.5" x2="58.2" y2="552.2" stroke="#111" stroke-width="1.0" stroke-dasharray="2.6 1.8"/>
<path d="M55.300000000000004 552.0 L61.1 552.0 L58.2 557.2Z" fill="#111"/>
<text x="0" y="0" font-size="9.11" text-anchor="middle" fill="#262626" transform="translate(99.6 479.6) scale(0.9 1)">Glofitamab</text>
<text x="0" y="0" font-size="9.11" text-anchor="middle" fill="#262626" transform="translate(100.4 488.9) scale(0.9 1)">10 mg</text>
<line x1="88" y1="494.2" x2="113" y2="494.2" stroke="#111" stroke-width="0.9" stroke-dasharray="2.6 1.8"/>
<line x1="91.4" y1="494.2" x2="91.4" y2="553.2" stroke="#111" stroke-width="1.0" stroke-dasharray="2.6 1.8"/>
<path d="M88.5 553.0 L94.30000000000001 553.0 L91.4 558.2Z" fill="#111"/>
<text x="0" y="0" font-size="9.11" text-anchor="middle" fill="#262626" transform="translate(129.8 507.6) scale(0.9 1)">Glofitamab</text>
<text x="0" y="0" font-size="9.11" text-anchor="middle" fill="#262626" transform="translate(129 517.1) scale(0.9 1)">30 mg</text>
<line x1="116.5" y1="522.5" x2="141.5" y2="522.5" stroke="#111" stroke-width="0.9" stroke-dasharray="2.6 1.8"/>
<line x1="124.3" y1="522.5" x2="124.3" y2="569.8" stroke="#111" stroke-width="1.0" stroke-dasharray="2.6 1.8"/>
<path d="M121.39999999999999 569.5999999999999 L127.2 569.5999999999999 L124.3 574.8Z" fill="#111"/>
<text x="0" y="0" font-size="9.11" text-anchor="middle" fill="#262626" transform="translate(162.3 536.3) scale(0.9 1)">CD19-CD28</text>
<text x="0" y="0" font-size="9.11" text-anchor="middle" fill="#262626" transform="translate(160.6 545.6) scale(0.9 1)">0.15-14 mg</text>
<line x1="151.5" y1="550.8" x2="174" y2="550.8" stroke="#e4141c" stroke-width="0.9" stroke-dasharray="2.6 1.8"/>
<line x1="157" y1="550.8" x2="157" y2="577.6" stroke="#e4141c" stroke-width="1.0" stroke-dasharray="2.6 1.8"/>
<path d="M154.1 577.4 L159.9 577.4 L157 582.6Z" fill="#e4141c"/>
<text x="0" y="0" font-size="9.11" text-anchor="middle" fill="#262626" transform="translate(197.8 497.1) scale(0.9 1)">CD19-CD28 +</text>
<text x="0" y="0" font-size="9.11" text-anchor="middle" fill="#262626" transform="translate(198.5 506.3) scale(0.9 1)">glofitamab</text>
<line x1="185" y1="512" x2="210.5" y2="512" stroke="#111" stroke-width="0.9" stroke-dasharray="2.6 1.8"/>
<line x1="190.5" y1="512" x2="190.5" y2="580.2" stroke="#111" stroke-width="1.0" stroke-dasharray="2.6 1.8"/>
<path d="M187.6 580.0 L193.4 580.0 L190.5 585.2Z" fill="#111"/>
<line x1="74.63" y1="452" x2="74.63" y2="535.4" stroke="#2a5a8a" stroke-width="0.8"/>
<line x1="72.92999999999999" y1="452" x2="76.33" y2="452" stroke="#2a5a8a" stroke-width="0.8"/>
<line x1="72.92999999999999" y1="535.4" x2="76.33" y2="535.4" stroke="#2a5a8a" stroke-width="0.8"/>
<line x1="107.49000000000001" y1="544.4" x2="107.49000000000001" y2="562.3" stroke="#2a5a8a" stroke-width="0.8"/>
<line x1="105.79" y1="544.4" x2="109.19000000000001" y2="544.4" stroke="#2a5a8a" stroke-width="0.8"/>
<line x1="105.79" y1="562.3" x2="109.19000000000001" y2="562.3" stroke="#2a5a8a" stroke-width="0.8"/>
<line x1="140.35000000000002" y1="569.2" x2="140.35000000000002" y2="578.2" stroke="#2a5a8a" stroke-width="0.8"/>
<line x1="138.65000000000003" y1="569.2" x2="142.05" y2="569.2" stroke="#2a5a8a" stroke-width="0.8"/>
<line x1="138.65000000000003" y1="578.2" x2="142.05" y2="578.2" stroke="#2a5a8a" stroke-width="0.8"/>
<line x1="74.63" y1="572.3" x2="74.63" y2="589" stroke="#3cb44b" stroke-width="0.8"/>
<line x1="72.92999999999999" y1="572.3" x2="76.33" y2="572.3" stroke="#3cb44b" stroke-width="0.8"/>
<line x1="72.92999999999999" y1="589" x2="76.33" y2="589" stroke="#3cb44b" stroke-width="0.8"/>
<polyline points="58.20,597.00 74.63,502.10 91.06,596.50 107.49,554.00 123.92,596.50 140.35,573.80 156.78,596.30 173.21,593.00 189.64,596.30 206.07,590.50 222.50,596.30" fill="none" stroke="#1f4e79" stroke-width="1.0" stroke-linejoin="round"/>
<circle cx="58.2" cy="597" r="2.2" fill="#1f4e79"/>
<circle cx="74.63" cy="502.1" r="2.2" fill="#1f4e79"/>
<circle cx="91.06" cy="596.5" r="2.2" fill="#1f4e79"/>
<circle cx="107.49000000000001" cy="554.0" r="2.2" fill="#1f4e79"/>
<circle cx="123.92" cy="596.5" r="2.2" fill="#1f4e79"/>
<circle cx="140.35000000000002" cy="573.8" r="2.2" fill="#1f4e79"/>
<circle cx="156.78" cy="596.3" r="2.2" fill="#1f4e79"/>
<circle cx="173.20999999999998" cy="593.0" r="2.2" fill="#1f4e79"/>
<circle cx="189.64" cy="596.3" r="2.2" fill="#1f4e79"/>
<circle cx="206.07" cy="590.5" r="2.2" fill="#1f4e79"/>
<circle cx="222.5" cy="596.3" r="2.2" fill="#1f4e79"/>
<polyline points="58.20,597.00 74.63,581.00 91.06,596.80 107.49,596.60 123.92,596.80 140.35,597.00 156.78,597.20 173.21,597.20 189.64,597.20 206.07,597.20 222.50,597.20" fill="none" stroke="#3cb44b" stroke-width="1.0" stroke-linejoin="round"/>
<circle cx="58.2" cy="597" r="2.2" fill="#3cb44b"/>
<circle cx="74.63" cy="581.0" r="2.2" fill="#3cb44b"/>
<circle cx="91.06" cy="596.8" r="2.2" fill="#3cb44b"/>
<circle cx="107.49000000000001" cy="596.6" r="2.2" fill="#3cb44b"/>
<circle cx="123.92" cy="596.8" r="2.2" fill="#3cb44b"/>
<circle cx="140.35000000000002" cy="597.0" r="2.2" fill="#3cb44b"/>
<circle cx="156.78" cy="597.2" r="2.2" fill="#3cb44b"/>
<circle cx="173.20999999999998" cy="597.2" r="2.2" fill="#3cb44b"/>
<circle cx="189.64" cy="597.2" r="2.2" fill="#3cb44b"/>
<circle cx="206.07" cy="597.2" r="2.2" fill="#3cb44b"/>
<circle cx="222.5" cy="597.2" r="2.2" fill="#3cb44b"/>
<polyline points="58.20,597.00 74.63,586.70 91.06,596.80 107.49,596.40 123.92,596.80 140.35,597.00 156.78,597.20 173.21,597.20 189.64,597.20 206.07,597.20 222.50,597.20" fill="none" stroke="#4aaee0" stroke-width="1.0" stroke-linejoin="round"/>
<circle cx="58.2" cy="597" r="2.2" fill="#4aaee0"/>
<circle cx="74.63" cy="586.7" r="2.2" fill="#4aaee0"/>
<circle cx="91.06" cy="596.8" r="2.2" fill="#4aaee0"/>
<circle cx="107.49000000000001" cy="596.4" r="2.2" fill="#4aaee0"/>
<circle cx="123.92" cy="596.8" r="2.2" fill="#4aaee0"/>
<circle cx="140.35000000000002" cy="597.0" r="2.2" fill="#4aaee0"/>
<circle cx="156.78" cy="597.2" r="2.2" fill="#4aaee0"/>
<circle cx="173.20999999999998" cy="597.2" r="2.2" fill="#4aaee0"/>
<circle cx="189.64" cy="597.2" r="2.2" fill="#4aaee0"/>
<circle cx="206.07" cy="597.2" r="2.2" fill="#4aaee0"/>
<circle cx="222.5" cy="597.2" r="2.2" fill="#4aaee0"/>
<polyline points="58.20,597.00 74.63,590.00 91.06,596.60 107.49,596.20 123.92,596.60 140.35,597.00 156.78,597.20 173.21,597.20 189.64,597.20 206.07,597.20 222.50,597.20" fill="none" stroke="#4a2c86" stroke-width="1.0" stroke-linejoin="round"/>
<circle cx="58.2" cy="597" r="2.2" fill="#4a2c86"/>
<circle cx="74.63" cy="590" r="2.2" fill="#4a2c86"/>
<circle cx="91.06" cy="596.6" r="2.2" fill="#4a2c86"/>
<circle cx="107.49000000000001" cy="596.2" r="2.2" fill="#4a2c86"/>
<circle cx="123.92" cy="596.6" r="2.2" fill="#4a2c86"/>
<circle cx="140.35000000000002" cy="597.0" r="2.2" fill="#4a2c86"/>
<circle cx="156.78" cy="597.2" r="2.2" fill="#4a2c86"/>
<circle cx="173.20999999999998" cy="597.2" r="2.2" fill="#4a2c86"/>
<circle cx="189.64" cy="597.2" r="2.2" fill="#4a2c86"/>
<circle cx="206.07" cy="597.2" r="2.2" fill="#4a2c86"/>
<circle cx="222.5" cy="597.2" r="2.2" fill="#4a2c86"/>
<polyline points="58.20,597.00 74.63,597.20 91.06,596.40 107.49,593.50 123.92,596.40 140.35,597.20 156.78,597.40 173.21,597.40 189.64,597.40 206.07,597.20 222.50,597.20" fill="none" stroke="#7a4a22" stroke-width="1.0" stroke-linejoin="round"/>
<circle cx="58.2" cy="597" r="2.2" fill="#7a4a22"/>
<circle cx="74.63" cy="597.2" r="2.2" fill="#7a4a22"/>
<circle cx="91.06" cy="596.4" r="2.2" fill="#7a4a22"/>
<circle cx="107.49000000000001" cy="593.5" r="2.2" fill="#7a4a22"/>
<circle cx="123.92" cy="596.4" r="2.2" fill="#7a4a22"/>
<circle cx="140.35000000000002" cy="597.2" r="2.2" fill="#7a4a22"/>
<circle cx="156.78" cy="597.4" r="2.2" fill="#7a4a22"/>
<circle cx="173.20999999999998" cy="597.4" r="2.2" fill="#7a4a22"/>
<circle cx="189.64" cy="597.4" r="2.2" fill="#7a4a22"/>
<circle cx="206.07" cy="597.2" r="2.2" fill="#7a4a22"/>
<circle cx="222.5" cy="597.2" r="2.2" fill="#7a4a22"/>
<polyline points="58.20,596.60 74.63,595.60 91.06,597.20 107.49,597.00 123.92,597.20 140.35,597.60 156.78,597.80 173.21,597.80 189.64,597.80 206.07,597.80 222.50,597.60" fill="none" stroke="#c8102e" stroke-width="1.0" stroke-linejoin="round"/>
<circle cx="58.2" cy="596.6" r="2.2" fill="#c8102e"/>
<circle cx="74.63" cy="595.6" r="2.2" fill="#c8102e"/>
<circle cx="91.06" cy="597.2" r="2.2" fill="#c8102e"/>
<circle cx="107.49000000000001" cy="597.0" r="2.2" fill="#c8102e"/>
<circle cx="123.92" cy="597.2" r="2.2" fill="#c8102e"/>
<circle cx="140.35000000000002" cy="597.6" r="2.2" fill="#c8102e"/>
<circle cx="156.78" cy="597.8" r="2.2" fill="#c8102e"/>
<circle cx="173.20999999999998" cy="597.8" r="2.2" fill="#c8102e"/>
<circle cx="189.64" cy="597.8" r="2.2" fill="#c8102e"/>
<circle cx="206.07" cy="597.8" r="2.2" fill="#c8102e"/>
<circle cx="222.5" cy="597.6" r="2.2" fill="#c8102e"/>
<text x="0" y="0" font-size="9.11" text-anchor="start" fill="#262626" transform="translate(233 493.5) scale(0.9 1)">Cytokine</text>
<line x1="233" y1="502.7" x2="248" y2="502.7" stroke="#1f4e79" stroke-width="1.5"/>
<circle cx="240.4" cy="502.7" r="2.8" fill="#1f4e79"/>
<text x="0" y="0" font-size="9.11" text-anchor="start" fill="#262626" transform="translate(251.5 505.59999999999997) scale(0.9 1)">IFNg</text>
<line x1="233" y1="514.3" x2="248" y2="514.3" stroke="#4aaee0" stroke-width="1.5"/>
<circle cx="240.4" cy="514.3" r="2.8" fill="#4aaee0"/>
<text x="0" y="0" font-size="9.11" text-anchor="start" fill="#262626" transform="translate(251.5 517.1999999999999) scale(0.9 1)">IL-10</text>
<line x1="233" y1="525.9" x2="248" y2="525.9" stroke="#3cb44b" stroke-width="1.5"/>
<circle cx="240.4" cy="525.9" r="2.8" fill="#3cb44b"/>
<text x="0" y="0" font-size="9.11" text-anchor="start" fill="#262626" transform="translate(251.5 528.8) scale(0.9 1)">IL-2</text>
<line x1="233" y1="537.5" x2="248" y2="537.5" stroke="#4a2a7a" stroke-width="1.5"/>
<circle cx="240.4" cy="537.5" r="2.8" fill="#4a2a7a"/>
<text x="0" y="0" font-size="9.11" text-anchor="start" fill="#262626" transform="translate(251.5 540.4) scale(0.9 1)">IL-6</text>
<line x1="233" y1="549.1" x2="248" y2="549.1" stroke="#6e4220" stroke-width="1.5"/>
<circle cx="240.4" cy="549.1" r="2.8" fill="#6e4220"/>
<text x="0" y="0" font-size="9.11" text-anchor="start" fill="#262626" transform="translate(251.5 552.0) scale(0.9 1)">IL-8</text>
<line x1="233" y1="560.7" x2="248" y2="560.7" stroke="#b81024" stroke-width="1.5"/>
<circle cx="240.4" cy="560.7" r="2.8" fill="#b81024"/>
<text x="0" y="0" font-size="9.11" text-anchor="start" fill="#262626" transform="translate(251.5 563.6) scale(0.9 1)">TNF</text>
<rect x="0" y="0" width="520" height="1.1" fill="#555"/>
<rect x="0" y="0" width="1.1" height="692" fill="#5a5a5a"/>
<rect x="518.7" y="0" width="1.3" height="692" fill="#4a4a4a"/>
<rect x="0" y="690.6" width="520" height="1.4" fill="#3a3a3a"/>
</svg></body></html>
